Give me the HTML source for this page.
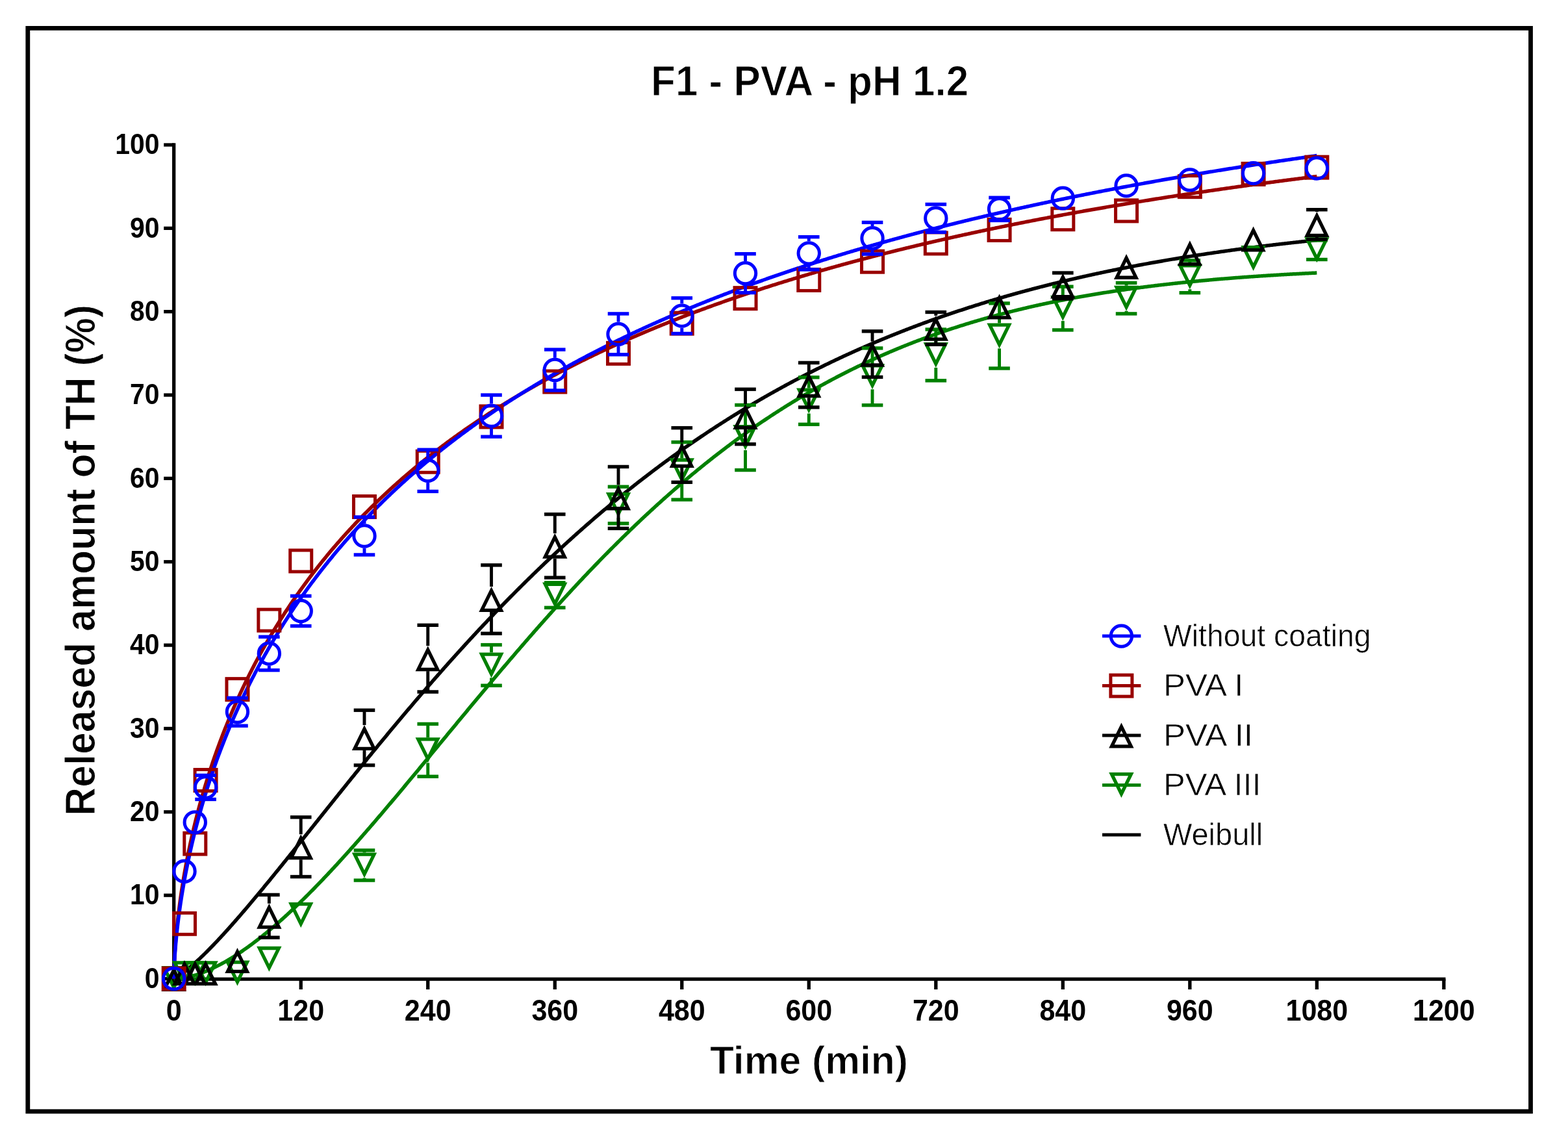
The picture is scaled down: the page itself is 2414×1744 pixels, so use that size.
<!DOCTYPE html>
<html><head><meta charset="utf-8"><title>F1 - PVA - pH 1.2</title>
<style>html,body{margin:0;padding:0;background:#fff;overflow:hidden;}svg{display:block;}</style></head>
<body>
<svg width="2414" height="1744" viewBox="0 0 2414 1744">
<rect x="0" y="0" width="2414" height="1744" fill="#fff"/>
<rect x="42.8" y="43.4" width="2313.7" height="1667.4" fill="none" stroke="#000" stroke-width="6.8"/>
<text transform="translate(1246.6,146.7) scale(0.9685,1)" text-anchor="middle" font-family="'Liberation Sans', sans-serif" font-weight="bold" font-size="64" stroke="#fff" stroke-width="1">F1 - PVA - pH 1.2</text>
<text transform="translate(145.9,862.3) rotate(-90) scale(0.9497,1)" text-anchor="middle" font-family="'Liberation Sans', sans-serif" font-weight="bold" font-size="64" stroke="#fff" stroke-width="1">Released amount of TH (%)</text>
<text transform="translate(1245.5,1653.4) scale(0.993,1)" text-anchor="middle" font-family="'Liberation Sans', sans-serif" font-weight="bold" font-size="61" stroke="#fff" stroke-width="1">Time (min)</text>
<line x1="267.7" y1="220.3" x2="267.7" y2="1509.8500000000001" stroke="#000" stroke-width="5.3"/>
<line x1="265.05" y1="1507.2" x2="2225.51" y2="1507.2" stroke="#000" stroke-width="5.3"/>
<line x1="252.2" y1="1506.50" x2="267.7" y2="1506.50" stroke="#000" stroke-width="5.3"/>
<text transform="translate(245.5,1520.80) scale(0.93,1)" text-anchor="end" font-family="'Liberation Sans', sans-serif" font-weight="bold" font-size="44">0</text>
<line x1="252.2" y1="1378.15" x2="267.7" y2="1378.15" stroke="#000" stroke-width="5.3"/>
<text transform="translate(245.5,1392.45) scale(0.93,1)" text-anchor="end" font-family="'Liberation Sans', sans-serif" font-weight="bold" font-size="44">10</text>
<line x1="252.2" y1="1249.80" x2="267.7" y2="1249.80" stroke="#000" stroke-width="5.3"/>
<text transform="translate(245.5,1264.10) scale(0.93,1)" text-anchor="end" font-family="'Liberation Sans', sans-serif" font-weight="bold" font-size="44">20</text>
<line x1="252.2" y1="1121.45" x2="267.7" y2="1121.45" stroke="#000" stroke-width="5.3"/>
<text transform="translate(245.5,1135.75) scale(0.93,1)" text-anchor="end" font-family="'Liberation Sans', sans-serif" font-weight="bold" font-size="44">30</text>
<line x1="252.2" y1="993.10" x2="267.7" y2="993.10" stroke="#000" stroke-width="5.3"/>
<text transform="translate(245.5,1007.40) scale(0.93,1)" text-anchor="end" font-family="'Liberation Sans', sans-serif" font-weight="bold" font-size="44">40</text>
<line x1="252.2" y1="864.75" x2="267.7" y2="864.75" stroke="#000" stroke-width="5.3"/>
<text transform="translate(245.5,879.05) scale(0.93,1)" text-anchor="end" font-family="'Liberation Sans', sans-serif" font-weight="bold" font-size="44">50</text>
<line x1="252.2" y1="736.40" x2="267.7" y2="736.40" stroke="#000" stroke-width="5.3"/>
<text transform="translate(245.5,750.70) scale(0.93,1)" text-anchor="end" font-family="'Liberation Sans', sans-serif" font-weight="bold" font-size="44">60</text>
<line x1="252.2" y1="608.05" x2="267.7" y2="608.05" stroke="#000" stroke-width="5.3"/>
<text transform="translate(245.5,622.35) scale(0.93,1)" text-anchor="end" font-family="'Liberation Sans', sans-serif" font-weight="bold" font-size="44">70</text>
<line x1="252.2" y1="479.70" x2="267.7" y2="479.70" stroke="#000" stroke-width="5.3"/>
<text transform="translate(245.5,494.00) scale(0.93,1)" text-anchor="end" font-family="'Liberation Sans', sans-serif" font-weight="bold" font-size="44">80</text>
<line x1="252.2" y1="351.35" x2="267.7" y2="351.35" stroke="#000" stroke-width="5.3"/>
<text transform="translate(245.5,365.65) scale(0.93,1)" text-anchor="end" font-family="'Liberation Sans', sans-serif" font-weight="bold" font-size="44">90</text>
<line x1="252.2" y1="223.00" x2="267.7" y2="223.00" stroke="#000" stroke-width="5.3"/>
<text transform="translate(245.5,237.30) scale(0.93,1)" text-anchor="end" font-family="'Liberation Sans', sans-serif" font-weight="bold" font-size="44">100</text>
<line x1="267.70" y1="1507.2" x2="267.70" y2="1523" stroke="#000" stroke-width="5.3"/>
<text transform="translate(267.70,1571.2) scale(0.935,1)" text-anchor="middle" font-family="'Liberation Sans', sans-serif" font-weight="bold" font-size="46">0</text>
<line x1="463.22" y1="1507.2" x2="463.22" y2="1523" stroke="#000" stroke-width="5.3"/>
<text transform="translate(463.22,1571.2) scale(0.935,1)" text-anchor="middle" font-family="'Liberation Sans', sans-serif" font-weight="bold" font-size="46">120</text>
<line x1="658.73" y1="1507.2" x2="658.73" y2="1523" stroke="#000" stroke-width="5.3"/>
<text transform="translate(658.73,1571.2) scale(0.935,1)" text-anchor="middle" font-family="'Liberation Sans', sans-serif" font-weight="bold" font-size="46">240</text>
<line x1="854.25" y1="1507.2" x2="854.25" y2="1523" stroke="#000" stroke-width="5.3"/>
<text transform="translate(854.25,1571.2) scale(0.935,1)" text-anchor="middle" font-family="'Liberation Sans', sans-serif" font-weight="bold" font-size="46">360</text>
<line x1="1049.76" y1="1507.2" x2="1049.76" y2="1523" stroke="#000" stroke-width="5.3"/>
<text transform="translate(1049.76,1571.2) scale(0.935,1)" text-anchor="middle" font-family="'Liberation Sans', sans-serif" font-weight="bold" font-size="46">480</text>
<line x1="1245.28" y1="1507.2" x2="1245.28" y2="1523" stroke="#000" stroke-width="5.3"/>
<text transform="translate(1245.28,1571.2) scale(0.935,1)" text-anchor="middle" font-family="'Liberation Sans', sans-serif" font-weight="bold" font-size="46">600</text>
<line x1="1440.80" y1="1507.2" x2="1440.80" y2="1523" stroke="#000" stroke-width="5.3"/>
<text transform="translate(1440.80,1571.2) scale(0.935,1)" text-anchor="middle" font-family="'Liberation Sans', sans-serif" font-weight="bold" font-size="46">720</text>
<line x1="1636.31" y1="1507.2" x2="1636.31" y2="1523" stroke="#000" stroke-width="5.3"/>
<text transform="translate(1636.31,1571.2) scale(0.935,1)" text-anchor="middle" font-family="'Liberation Sans', sans-serif" font-weight="bold" font-size="46">840</text>
<line x1="1831.83" y1="1507.2" x2="1831.83" y2="1523" stroke="#000" stroke-width="5.3"/>
<text transform="translate(1831.83,1571.2) scale(0.935,1)" text-anchor="middle" font-family="'Liberation Sans', sans-serif" font-weight="bold" font-size="46">960</text>
<line x1="2027.34" y1="1507.2" x2="2027.34" y2="1523" stroke="#000" stroke-width="5.3"/>
<text transform="translate(2027.34,1571.2) scale(0.935,1)" text-anchor="middle" font-family="'Liberation Sans', sans-serif" font-weight="bold" font-size="46">1080</text>
<line x1="2222.86" y1="1507.2" x2="2222.86" y2="1523" stroke="#000" stroke-width="5.3"/>
<text transform="translate(2222.86,1571.2) scale(0.935,1)" text-anchor="middle" font-family="'Liberation Sans', sans-serif" font-weight="bold" font-size="46">1200</text>
<polyline points="267.70,1506.50 269.17,1506.50 270.64,1506.50 272.10,1506.48 273.57,1506.41 275.04,1506.30 276.51,1506.17 277.97,1506.01 279.44,1505.83 280.91,1505.62 282.38,1505.39 283.84,1505.14 285.31,1504.87 286.78,1504.59 288.25,1504.28 289.71,1503.95 291.18,1503.61 292.65,1503.25 294.12,1502.88 295.58,1502.48 297.05,1502.08 298.52,1501.65 299.99,1501.21 301.45,1500.76 302.92,1500.29 304.39,1499.81 305.86,1499.31 307.33,1498.80 308.79,1498.27 310.26,1497.73 311.73,1497.18 313.20,1496.61 314.66,1496.03 316.13,1495.44 317.60,1494.84 319.07,1494.22 320.53,1493.59 322.00,1492.95 323.47,1492.29 324.94,1491.62 326.40,1490.95 327.87,1490.26 329.34,1489.55 330.81,1488.84 332.27,1488.12 333.74,1487.38 335.21,1486.63 336.68,1485.87 338.14,1485.10 339.61,1484.32 341.08,1483.53 342.55,1482.73 344.01,1481.92 345.48,1481.10 346.95,1480.27 348.42,1479.42 349.89,1478.57 351.35,1477.71 352.82,1476.83 354.29,1475.95 355.76,1475.06 357.22,1474.16 358.69,1473.24 360.16,1472.32 361.63,1471.39 363.09,1470.45 364.56,1469.50 366.03,1468.54 367.50,1467.57 368.96,1466.60 370.43,1465.61 371.90,1464.61 373.37,1463.61 374.83,1462.60 376.30,1461.58 377.77,1460.55 379.24,1459.51 380.70,1458.46 382.17,1457.41 383.64,1456.34 385.11,1455.27 386.58,1454.19 388.04,1453.10 389.51,1452.01 390.98,1450.90 392.45,1449.79 393.91,1448.67 395.38,1447.54 396.85,1446.40 398.32,1445.26 399.78,1444.11 401.25,1442.95 402.72,1441.79 404.19,1440.61 405.65,1439.43 407.12,1438.24 408.59,1437.05 410.06,1435.84 411.52,1434.63 412.99,1433.42 414.46,1432.19 415.93,1430.96 417.39,1429.72 418.86,1428.48 420.33,1427.23 421.80,1425.97 423.26,1424.70 424.73,1423.43 426.20,1422.15 427.67,1420.87 429.14,1419.58 430.60,1418.28 432.07,1416.97 433.54,1415.66 435.01,1414.35 436.47,1413.02 437.94,1411.70 439.41,1410.36 440.88,1409.02 442.34,1407.67 443.81,1406.32 445.28,1404.96 446.75,1403.59 448.21,1402.22 449.68,1400.85 451.15,1399.46 452.62,1398.08 454.08,1396.68 455.55,1395.28 457.02,1393.88 458.49,1392.47 459.95,1391.05 461.42,1389.63 462.89,1388.21 464.36,1386.78 465.83,1385.34 467.29,1383.90 468.76,1382.45 470.23,1381.00 471.70,1379.54 473.16,1378.08 474.63,1376.61 476.10,1375.14 477.57,1373.66 479.03,1372.18 480.50,1370.70 481.97,1369.21 483.44,1367.71 484.90,1366.21 486.37,1364.70 487.84,1363.20 489.31,1361.68 490.77,1360.16 492.24,1358.64 493.71,1357.11 495.18,1355.58 496.64,1354.05 498.11,1352.51 499.58,1350.96 501.05,1349.41 502.51,1347.86 503.98,1346.31 505.45,1344.75 506.92,1343.18 508.39,1341.61 509.85,1340.04 511.32,1338.46 512.79,1336.88 514.26,1335.30 515.72,1333.71 517.19,1332.12 518.66,1330.53 520.13,1328.93 521.59,1327.33 523.06,1325.72 524.53,1324.11 526.00,1322.50 527.46,1320.89 528.93,1319.27 530.40,1317.65 531.87,1316.02 533.33,1314.39 534.80,1312.76 536.27,1311.12 537.74,1309.49 539.20,1307.84 540.67,1306.20 542.14,1304.55 543.61,1302.90 545.08,1301.25 546.54,1299.59 548.01,1297.93 549.48,1296.27 550.95,1294.61 552.41,1292.94 553.88,1291.27 555.35,1289.60 556.82,1287.92 558.28,1286.24 559.75,1284.56 561.22,1282.88 562.69,1281.19 564.15,1279.51 565.62,1277.82 567.09,1276.12 568.56,1274.43 570.02,1272.73 571.49,1271.03 572.96,1269.33 574.43,1267.63 575.89,1265.92 577.36,1264.21 578.83,1262.50 580.30,1260.79 581.76,1259.07 583.23,1257.36 584.70,1255.64 586.17,1253.92 587.64,1252.20 589.10,1250.47 590.57,1248.75 592.04,1247.02 593.51,1245.29 594.97,1243.56 596.44,1241.82 597.91,1240.09 599.38,1238.35 600.84,1236.62 602.31,1234.88 603.78,1233.14 605.25,1231.39 606.71,1229.65 608.18,1227.90 609.65,1226.16 611.12,1224.41 612.58,1222.66 614.05,1220.91 615.52,1219.16 616.99,1217.40 618.45,1215.65 619.92,1213.90 621.39,1212.14 622.86,1210.38 624.33,1208.62 625.79,1206.86 627.26,1205.10 628.73,1203.34 630.20,1201.58 631.66,1199.81 633.13,1198.05 634.60,1196.28 636.07,1194.52 637.53,1192.75 639.00,1190.98 640.47,1189.21 641.94,1187.44 643.40,1185.67 644.87,1183.90 646.34,1182.13 647.81,1180.36 649.27,1178.59 650.74,1176.82 652.21,1175.04 653.68,1173.27 655.14,1171.49 656.61,1169.72 658.08,1167.94 659.55,1166.17 661.01,1164.39 662.48,1162.62 663.95,1160.84 665.42,1159.06 666.89,1157.29 668.35,1155.51 669.82,1153.73 671.29,1151.95 672.76,1150.18 674.22,1148.40 675.69,1146.62 677.16,1144.84 678.63,1143.06 680.09,1141.29 681.56,1139.51 683.03,1137.73 684.50,1135.95 685.96,1134.17 687.43,1132.40 688.90,1130.62 690.37,1128.84 691.83,1127.06 693.30,1125.29 694.77,1123.51 696.24,1121.73 697.70,1119.96 699.17,1118.18 700.64,1116.41 702.11,1114.63 703.58,1112.86 705.04,1111.08 706.51,1109.31 707.98,1107.54 709.45,1105.76 710.91,1103.99 712.38,1102.22 713.85,1100.45 715.32,1098.68 716.78,1096.91 718.25,1095.14 719.72,1093.37 721.19,1091.60 722.65,1089.84 724.12,1088.07 725.59,1086.30 727.06,1084.54 728.52,1082.77 729.99,1081.01 731.46,1079.25 732.93,1077.49 734.39,1075.73 735.86,1073.97 737.33,1072.21 738.80,1070.45 740.26,1068.69 741.73,1066.94 743.20,1065.18 744.67,1063.43 746.14,1061.67 747.60,1059.92 749.07,1058.17 750.54,1056.42 752.01,1054.67 753.47,1052.93 754.94,1051.18 756.41,1049.43 757.88,1047.69 759.34,1045.95 760.81,1044.21 762.28,1042.47 763.75,1040.73 765.21,1038.99 766.68,1037.25 768.15,1035.52 769.62,1033.78 771.08,1032.05 772.55,1030.32 774.02,1028.59 775.49,1026.86 776.95,1025.14 778.42,1023.41 779.89,1021.69 781.36,1019.97 782.83,1018.25 784.29,1016.53 785.76,1014.81 787.23,1013.09 788.70,1011.38 790.16,1009.67 791.63,1007.96 793.10,1006.25 794.57,1004.54 796.03,1002.83 797.50,1001.13 798.97,999.43 800.44,997.72 801.90,996.03 803.37,994.33 804.84,992.63 806.31,990.94 807.77,989.25 809.24,987.56 810.71,985.87 812.18,984.18 813.64,982.50 815.11,980.81 816.58,979.13 818.05,977.45 819.51,975.78 820.98,974.10 822.45,972.43 823.92,970.76 825.39,969.09 826.85,967.42 828.32,965.76 829.79,964.09 831.26,962.43 832.72,960.77 834.19,959.11 835.66,957.46 837.13,955.81 838.59,954.16 840.06,952.51 841.53,950.86 843.00,949.22 844.46,947.57 845.93,945.93 847.40,944.30 848.87,942.66 850.33,941.03 851.80,939.40 853.27,937.77 854.74,936.14 856.20,934.52 857.67,932.90 859.14,931.28 860.61,929.66 862.08,928.04 863.54,926.43 865.01,924.82 866.48,923.21 867.95,921.61 869.41,920.00 870.88,918.40 872.35,916.80 873.82,915.21 875.28,913.61 876.75,912.02 878.22,910.43 879.69,908.85 881.15,907.26 882.62,905.68 884.09,904.10 885.56,902.52 887.02,900.95 888.49,899.38 889.96,897.81 891.43,896.24 892.89,894.68 894.36,893.12 895.83,891.56 897.30,890.00 898.76,888.45 900.23,886.90 901.70,885.35 903.17,883.80 904.64,882.26 906.10,880.72 907.57,879.18 909.04,877.64 910.51,876.11 911.97,874.58 913.44,873.05 914.91,871.53 916.38,870.01 917.84,868.49 919.31,866.97 920.78,865.46 922.25,863.95 923.71,862.44 925.18,860.93 926.65,859.43 928.12,857.93 929.58,856.43 931.05,854.94 932.52,853.44 933.99,851.95 935.45,850.47 936.92,848.98 938.39,847.50 939.86,846.03 941.33,844.55 942.79,843.08 944.26,841.61 945.73,840.14 947.20,838.68 948.66,837.22 950.13,835.76 951.60,834.30 953.07,832.85 954.53,831.40 956.00,829.95 957.47,828.51 958.94,827.07 960.40,825.63 961.87,824.20 963.34,822.76 964.81,821.33 966.27,819.91 967.74,818.48 969.21,817.06 970.68,815.64 972.14,814.23 973.61,812.82 975.08,811.41 976.55,810.00 978.02,808.60 979.48,807.20 980.95,805.80 982.42,804.41 983.89,803.02 985.35,801.63 986.82,800.25 988.29,798.86 989.76,797.48 991.22,796.11 992.69,794.73 994.16,793.36 995.63,792.00 997.09,790.63 998.56,789.27 1000.03,787.91 1001.50,786.56 1002.96,785.21 1004.43,783.86 1005.90,782.51 1007.37,781.17 1008.83,779.83 1010.30,778.49 1011.77,777.16 1013.24,775.83 1014.70,774.50 1016.17,773.18 1017.64,771.85 1019.11,770.54 1020.58,769.22 1022.04,767.91 1023.51,766.60 1024.98,765.29 1026.45,763.99 1027.91,762.69 1029.38,761.39 1030.85,760.10 1032.32,758.81 1033.78,757.52 1035.25,756.23 1036.72,754.95 1038.19,753.67 1039.65,752.40 1041.12,751.13 1042.59,749.86 1044.06,748.59 1045.52,747.33 1046.99,746.07 1048.46,744.81 1049.93,743.56 1051.39,742.31 1052.86,741.06 1054.33,739.81 1055.80,738.57 1057.27,737.34 1058.73,736.10 1060.20,734.87 1061.67,733.64 1063.14,732.41 1064.60,731.19 1066.07,729.97 1067.54,728.75 1069.01,727.54 1070.47,726.33 1071.94,725.12 1073.41,723.92 1074.88,722.72 1076.34,721.52 1077.81,720.33 1079.28,719.14 1080.75,717.95 1082.21,716.76 1083.68,715.58 1085.15,714.40 1086.62,713.22 1088.08,712.05 1089.55,710.88 1091.02,709.72 1092.49,708.55 1093.95,707.39 1095.42,706.23 1096.89,705.08 1098.36,703.93 1099.83,702.78 1101.29,701.64 1102.76,700.50 1104.23,699.36 1105.70,698.22 1107.16,697.09 1108.63,695.96 1110.10,694.83 1111.57,693.71 1113.03,692.59 1114.50,691.47 1115.97,690.36 1117.44,689.25 1118.90,688.14 1120.37,687.04 1121.84,685.94 1123.31,684.84 1124.77,683.74 1126.24,682.65 1127.71,681.56 1129.18,680.48 1130.64,679.39 1132.11,678.31 1133.58,677.24 1135.05,676.16 1136.52,675.09 1137.98,674.03 1139.45,672.96 1140.92,671.90 1142.39,670.84 1143.85,669.79 1145.32,668.74 1146.79,667.69 1148.26,666.64 1149.72,665.60 1151.19,664.56 1152.66,663.52 1154.13,662.49 1155.59,661.46 1157.06,660.43 1158.53,659.41 1160.00,658.38 1161.46,657.37 1162.93,656.35 1164.40,655.34 1165.87,654.33 1167.33,653.32 1168.80,652.32 1170.27,651.32 1171.74,650.32 1173.20,649.33 1174.67,648.34 1176.14,647.35 1177.61,646.36 1179.08,645.38 1180.54,644.40 1182.01,643.43 1183.48,642.45 1184.95,641.48 1186.41,640.52 1187.88,639.55 1189.35,638.59 1190.82,637.63 1192.28,636.68 1193.75,635.73 1195.22,634.78 1196.69,633.83 1198.15,632.89 1199.62,631.95 1201.09,631.01 1202.56,630.08 1204.02,629.14 1205.49,628.22 1206.96,627.29 1208.43,626.37 1209.89,625.45 1211.36,624.53 1212.83,623.62 1214.30,622.71 1215.77,621.80 1217.23,620.89 1218.70,619.99 1220.17,619.09 1221.64,618.20 1223.10,617.30 1224.57,616.41 1226.04,615.53 1227.51,614.64 1228.97,613.76 1230.44,612.88 1231.91,612.00 1233.38,611.13 1234.84,610.26 1236.31,609.39 1237.78,608.53 1239.25,607.67 1240.71,606.81 1242.18,605.95 1243.65,605.10 1245.12,604.25 1246.58,603.40 1248.05,602.56 1249.52,601.72 1250.99,600.88 1252.45,600.04 1253.92,599.21 1255.39,598.38 1256.86,597.55 1258.33,596.72 1259.79,595.90 1261.26,595.08 1262.73,594.27 1264.20,593.45 1265.66,592.64 1267.13,591.83 1268.60,591.03 1270.07,590.23 1271.53,589.43 1273.00,588.63 1274.47,587.83 1275.94,587.04 1277.40,586.25 1278.87,585.47 1280.34,584.68 1281.81,583.90 1283.27,583.12 1284.74,582.35 1286.21,581.58 1287.68,580.81 1289.14,580.04 1290.61,579.28 1292.08,578.51 1293.55,577.75 1295.02,577.00 1296.48,576.24 1297.95,575.49 1299.42,574.74 1300.89,574.00 1302.35,573.26 1303.82,572.51 1305.29,571.78 1306.76,571.04 1308.22,570.31 1309.69,569.58 1311.16,568.85 1312.63,568.13 1314.09,567.40 1315.56,566.69 1317.03,565.97 1318.50,565.25 1319.96,564.54 1321.43,563.83 1322.90,563.13 1324.37,562.42 1325.83,561.72 1327.30,561.02 1328.77,560.33 1330.24,559.63 1331.70,558.94 1333.17,558.25 1334.64,557.57 1336.11,556.88 1337.58,556.20 1339.04,555.52 1340.51,554.85 1341.98,554.17 1343.45,553.50 1344.91,552.83 1346.38,552.17 1347.85,551.50 1349.32,550.84 1350.78,550.18 1352.25,549.53 1353.72,548.87 1355.19,548.22 1356.65,547.57 1358.12,546.93 1359.59,546.28 1361.06,545.64 1362.52,545.00 1363.99,544.37 1365.46,543.73 1366.93,543.10 1368.39,542.47 1369.86,541.84 1371.33,541.22 1372.80,540.60 1374.27,539.98 1375.73,539.36 1377.20,538.74 1378.67,538.13 1380.14,537.52 1381.60,536.91 1383.07,536.31 1384.54,535.70 1386.01,535.10 1387.47,534.50 1388.94,533.91 1390.41,533.31 1391.88,532.72 1393.34,532.13 1394.81,531.55 1396.28,530.96 1397.75,530.38 1399.21,529.80 1400.68,529.22 1402.15,528.64 1403.62,528.07 1405.08,527.50 1406.55,526.93 1408.02,526.36 1409.49,525.80 1410.95,525.24 1412.42,524.68 1413.89,524.12 1415.36,523.56 1416.83,523.01 1418.29,522.46 1419.76,521.91 1421.23,521.36 1422.70,520.82 1424.16,520.28 1425.63,519.74 1427.10,519.20 1428.57,518.66 1430.03,518.13 1431.50,517.60 1432.97,517.07 1434.44,516.54 1435.90,516.02 1437.37,515.49 1438.84,514.97 1440.31,514.45 1441.77,513.94 1443.24,513.42 1444.71,512.91 1446.18,512.40 1447.64,511.89 1449.11,511.39 1450.58,510.88 1452.05,510.38 1453.52,509.88 1454.98,509.38 1456.45,508.89 1457.92,508.39 1459.39,507.90 1460.85,507.41 1462.32,506.92 1463.79,506.44 1465.26,505.95 1466.72,505.47 1468.19,504.99 1469.66,504.51 1471.13,504.04 1472.59,503.57 1474.06,503.09 1475.53,502.62 1477.00,502.16 1478.46,501.69 1479.93,501.23 1481.40,500.76 1482.87,500.31 1484.33,499.85 1485.80,499.39 1487.27,498.94 1488.74,498.48 1490.20,498.03 1491.67,497.59 1493.14,497.14 1494.61,496.70 1496.08,496.25 1497.54,495.81 1499.01,495.37 1500.48,494.94 1501.95,494.50 1503.41,494.07 1504.88,493.64 1506.35,493.21 1507.82,492.78 1509.28,492.35 1510.75,491.93 1512.22,491.51 1513.69,491.09 1515.15,490.67 1516.62,490.25 1518.09,489.84 1519.56,489.42 1521.02,489.01 1522.49,488.60 1523.96,488.19 1525.43,487.79 1526.89,487.38 1528.36,486.98 1529.83,486.58 1531.30,486.18 1532.77,485.79 1534.23,485.39 1535.70,485.00 1537.17,484.60 1538.64,484.21 1540.10,483.83 1541.57,483.44 1543.04,483.05 1544.51,482.67 1545.97,482.29 1547.44,481.91 1548.91,481.53 1550.38,481.15 1551.84,480.78 1553.31,480.41 1554.78,480.03 1556.25,479.66 1557.71,479.30 1559.18,478.93 1560.65,478.56 1562.12,478.20 1563.58,477.84 1565.05,477.48 1566.52,477.12 1567.99,476.76 1569.45,476.41 1570.92,476.05 1572.39,475.70 1573.86,475.35 1575.33,475.00 1576.79,474.66 1578.26,474.31 1579.73,473.97 1581.20,473.62 1582.66,473.28 1584.13,472.94 1585.60,472.61 1587.07,472.27 1588.53,471.93 1590.00,471.60 1591.47,471.27 1592.94,470.94 1594.40,470.61 1595.87,470.28 1597.34,469.96 1598.81,469.63 1600.27,469.31 1601.74,468.99 1603.21,468.67 1604.68,468.35 1606.14,468.03 1607.61,467.72 1609.08,467.40 1610.55,467.09 1612.02,466.78 1613.48,466.47 1614.95,466.16 1616.42,465.86 1617.89,465.55 1619.35,465.25 1620.82,464.95 1622.29,464.64 1623.76,464.34 1625.22,464.05 1626.69,463.75 1628.16,463.45 1629.63,463.16 1631.09,462.87 1632.56,462.58 1634.03,462.29 1635.50,462.00 1636.96,461.71 1638.43,461.43 1639.90,461.14 1641.37,460.86 1642.83,460.58 1644.30,460.30 1645.77,460.02 1647.24,459.74 1648.71,459.46 1650.17,459.19 1651.64,458.91 1653.11,458.64 1654.58,458.37 1656.04,458.10 1657.51,457.83 1658.98,457.57 1660.45,457.30 1661.91,457.03 1663.38,456.77 1664.85,456.51 1666.32,456.25 1667.78,455.99 1669.25,455.73 1670.72,455.47 1672.19,455.22 1673.65,454.96 1675.12,454.71 1676.59,454.46 1678.06,454.21 1679.52,453.96 1680.99,453.71 1682.46,453.46 1683.93,453.21 1685.39,452.97 1686.86,452.73 1688.33,452.48 1689.80,452.24 1691.27,452.00 1692.73,451.76 1694.20,451.53 1695.67,451.29 1697.14,451.05 1698.60,450.82 1700.07,450.59 1701.54,450.35 1703.01,450.12 1704.47,449.89 1705.94,449.66 1707.41,449.44 1708.88,449.21 1710.34,448.99 1711.81,448.76 1713.28,448.54 1714.75,448.32 1716.21,448.10 1717.68,447.88 1719.15,447.66 1720.62,447.44 1722.08,447.22 1723.55,447.01 1725.02,446.80 1726.49,446.58 1727.96,446.37 1729.42,446.16 1730.89,445.95 1732.36,445.74 1733.83,445.53 1735.29,445.33 1736.76,445.12 1738.23,444.92 1739.70,444.71 1741.16,444.51 1742.63,444.31 1744.10,444.11 1745.57,443.91 1747.03,443.71 1748.50,443.51 1749.97,443.31 1751.44,443.12 1752.90,442.92 1754.37,442.73 1755.84,442.54 1757.31,442.35 1758.77,442.16 1760.24,441.97 1761.71,441.78 1763.18,441.59 1764.64,441.40 1766.11,441.22 1767.58,441.03 1769.05,440.85 1770.52,440.67 1771.98,440.48 1773.45,440.30 1774.92,440.12 1776.39,439.94 1777.85,439.77 1779.32,439.59 1780.79,439.41 1782.26,439.24 1783.72,439.06 1785.19,438.89 1786.66,438.71 1788.13,438.54 1789.59,438.37 1791.06,438.20 1792.53,438.03 1794.00,437.86 1795.46,437.70 1796.93,437.53 1798.40,437.36 1799.87,437.20 1801.33,437.04 1802.80,436.87 1804.27,436.71 1805.74,436.55 1807.21,436.39 1808.67,436.23 1810.14,436.07 1811.61,435.91 1813.08,435.75 1814.54,435.60 1816.01,435.44 1817.48,435.29 1818.95,435.13 1820.41,434.98 1821.88,434.83 1823.35,434.68 1824.82,434.53 1826.28,434.38 1827.75,434.23 1829.22,434.08 1830.69,433.93 1832.15,433.79 1833.62,433.64 1835.09,433.49 1836.56,433.35 1838.02,433.21 1839.49,433.06 1840.96,432.92 1842.43,432.78 1843.89,432.64 1845.36,432.50 1846.83,432.36 1848.30,432.22 1849.77,432.08 1851.23,431.95 1852.70,431.81 1854.17,431.68 1855.64,431.54 1857.10,431.41 1858.57,431.27 1860.04,431.14 1861.51,431.01 1862.97,430.88 1864.44,430.75 1865.91,430.62 1867.38,430.49 1868.84,430.36 1870.31,430.24 1871.78,430.11 1873.25,429.98 1874.71,429.86 1876.18,429.73 1877.65,429.61 1879.12,429.48 1880.58,429.36 1882.05,429.24 1883.52,429.12 1884.99,429.00 1886.46,428.88 1887.92,428.76 1889.39,428.64 1890.86,428.52 1892.33,428.40 1893.79,428.29 1895.26,428.17 1896.73,428.06 1898.20,427.94 1899.66,427.83 1901.13,427.71 1902.60,427.60 1904.07,427.49 1905.53,427.38 1907.00,427.27 1908.47,427.16 1909.94,427.05 1911.40,426.94 1912.87,426.83 1914.34,426.72 1915.81,426.61 1917.27,426.51 1918.74,426.40 1920.21,426.29 1921.68,426.19 1923.14,426.08 1924.61,425.98 1926.08,425.88 1927.55,425.77 1929.02,425.67 1930.48,425.57 1931.95,425.47 1933.42,425.37 1934.89,425.27 1936.35,425.17 1937.82,425.07 1939.29,424.97 1940.76,424.88 1942.22,424.78 1943.69,424.68 1945.16,424.59 1946.63,424.49 1948.09,424.40 1949.56,424.30 1951.03,424.21 1952.50,424.11 1953.96,424.02 1955.43,423.93 1956.90,423.84 1958.37,423.75 1959.83,423.66 1961.30,423.57 1962.77,423.48 1964.24,423.39 1965.71,423.30 1967.17,423.21 1968.64,423.12 1970.11,423.04 1971.58,422.95 1973.04,422.86 1974.51,422.78 1975.98,422.69 1977.45,422.61 1978.91,422.52 1980.38,422.44 1981.85,422.36 1983.32,422.27 1984.78,422.19 1986.25,422.11 1987.72,422.03 1989.19,421.95 1990.65,421.87 1992.12,421.79 1993.59,421.71 1995.06,421.63 1996.52,421.55 1997.99,421.47 1999.46,421.40 2000.93,421.32 2002.39,421.24 2003.86,421.17 2005.33,421.09 2006.80,421.01 2008.27,420.94 2009.73,420.87 2011.20,420.79 2012.67,420.72 2014.14,420.64 2015.60,420.57 2017.07,420.50 2018.54,420.43 2020.01,420.36 2021.47,420.29 2022.94,420.21 2024.41,420.14 2025.88,420.07 2027.34,420.01" fill="none" stroke="#008000" stroke-width="5.5" stroke-linejoin="round"/>
<polyline points="267.70,1505.77 269.17,1505.12 270.64,1504.38 272.10,1503.59 273.57,1502.74 275.04,1501.84 276.51,1500.91 277.97,1499.93 279.44,1498.93 280.91,1497.89 282.38,1496.83 283.84,1495.74 285.31,1494.63 286.78,1493.49 288.25,1492.33 289.71,1491.15 291.18,1489.95 292.65,1488.72 294.12,1487.49 295.58,1486.23 297.05,1484.96 298.52,1483.67 299.99,1482.37 301.45,1481.05 302.92,1479.72 304.39,1478.37 305.86,1477.01 307.33,1475.64 308.79,1474.25 310.26,1472.85 311.73,1471.44 313.20,1470.02 314.66,1468.59 316.13,1467.15 317.60,1465.70 319.07,1464.23 320.53,1462.76 322.00,1461.28 323.47,1459.78 324.94,1458.28 326.40,1456.77 327.87,1455.25 329.34,1453.73 330.81,1452.19 332.27,1450.65 333.74,1449.10 335.21,1447.54 336.68,1445.97 338.14,1444.40 339.61,1442.82 341.08,1441.23 342.55,1439.63 344.01,1438.03 345.48,1436.42 346.95,1434.81 348.42,1433.19 349.89,1431.56 351.35,1429.93 352.82,1428.29 354.29,1426.65 355.76,1425.00 357.22,1423.35 358.69,1421.69 360.16,1420.02 361.63,1418.35 363.09,1416.68 364.56,1415.00 366.03,1413.31 367.50,1411.62 368.96,1409.93 370.43,1408.23 371.90,1406.53 373.37,1404.82 374.83,1403.11 376.30,1401.40 377.77,1399.68 379.24,1397.96 380.70,1396.23 382.17,1394.50 383.64,1392.77 385.11,1391.03 386.58,1389.29 388.04,1387.55 389.51,1385.80 390.98,1384.05 392.45,1382.30 393.91,1380.54 395.38,1378.78 396.85,1377.02 398.32,1375.25 399.78,1373.49 401.25,1371.72 402.72,1369.94 404.19,1368.17 405.65,1366.39 407.12,1364.61 408.59,1362.83 410.06,1361.04 411.52,1359.25 412.99,1357.47 414.46,1355.67 415.93,1353.88 417.39,1352.08 418.86,1350.29 420.33,1348.49 421.80,1346.69 423.26,1344.88 424.73,1343.08 426.20,1341.27 427.67,1339.46 429.14,1337.66 430.60,1335.84 432.07,1334.03 433.54,1332.22 435.01,1330.40 436.47,1328.59 437.94,1326.77 439.41,1324.95 440.88,1323.13 442.34,1321.31 443.81,1319.48 445.28,1317.66 446.75,1315.84 448.21,1314.01 449.68,1312.18 451.15,1310.36 452.62,1308.53 454.08,1306.70 455.55,1304.87 457.02,1303.04 458.49,1301.21 459.95,1299.38 461.42,1297.54 462.89,1295.71 464.36,1293.88 465.83,1292.04 467.29,1290.21 468.76,1288.37 470.23,1286.54 471.70,1284.70 473.16,1282.87 474.63,1281.03 476.10,1279.19 477.57,1277.36 479.03,1275.52 480.50,1273.68 481.97,1271.85 483.44,1270.01 484.90,1268.17 486.37,1266.33 487.84,1264.50 489.31,1262.66 490.77,1260.82 492.24,1258.99 493.71,1257.15 495.18,1255.31 496.64,1253.48 498.11,1251.64 499.58,1249.80 501.05,1247.97 502.51,1246.13 503.98,1244.30 505.45,1242.46 506.92,1240.63 508.39,1238.79 509.85,1236.96 511.32,1235.13 512.79,1233.30 514.26,1231.46 515.72,1229.63 517.19,1227.80 518.66,1225.97 520.13,1224.14 521.59,1222.31 523.06,1220.48 524.53,1218.66 526.00,1216.83 527.46,1215.00 528.93,1213.18 530.40,1211.35 531.87,1209.53 533.33,1207.70 534.80,1205.88 536.27,1204.06 537.74,1202.24 539.20,1200.42 540.67,1198.60 542.14,1196.78 543.61,1194.97 545.08,1193.15 546.54,1191.34 548.01,1189.52 549.48,1187.71 550.95,1185.90 552.41,1184.09 553.88,1182.28 555.35,1180.47 556.82,1178.66 558.28,1176.86 559.75,1175.05 561.22,1173.25 562.69,1171.45 564.15,1169.65 565.62,1167.85 567.09,1166.05 568.56,1164.25 570.02,1162.45 571.49,1160.66 572.96,1158.87 574.43,1157.07 575.89,1155.28 577.36,1153.49 578.83,1151.71 580.30,1149.92 581.76,1148.13 583.23,1146.35 584.70,1144.57 586.17,1142.79 587.64,1141.01 589.10,1139.23 590.57,1137.46 592.04,1135.68 593.51,1133.91 594.97,1132.14 596.44,1130.37 597.91,1128.60 599.38,1126.83 600.84,1125.07 602.31,1123.30 603.78,1121.54 605.25,1119.78 606.71,1118.02 608.18,1116.27 609.65,1114.51 611.12,1112.76 612.58,1111.01 614.05,1109.26 615.52,1107.51 616.99,1105.76 618.45,1104.02 619.92,1102.28 621.39,1100.53 622.86,1098.80 624.33,1097.06 625.79,1095.32 627.26,1093.59 628.73,1091.86 630.20,1090.13 631.66,1088.40 633.13,1086.67 634.60,1084.95 636.07,1083.23 637.53,1081.51 639.00,1079.79 640.47,1078.07 641.94,1076.36 643.40,1074.65 644.87,1072.93 646.34,1071.23 647.81,1069.52 649.27,1067.81 650.74,1066.11 652.21,1064.41 653.68,1062.71 655.14,1061.02 656.61,1059.32 658.08,1057.63 659.55,1055.94 661.01,1054.25 662.48,1052.57 663.95,1050.88 665.42,1049.20 666.89,1047.52 668.35,1045.84 669.82,1044.17 671.29,1042.49 672.76,1040.82 674.22,1039.15 675.69,1037.48 677.16,1035.82 678.63,1034.16 680.09,1032.50 681.56,1030.84 683.03,1029.18 684.50,1027.53 685.96,1025.88 687.43,1024.23 688.90,1022.58 690.37,1020.93 691.83,1019.29 693.30,1017.65 694.77,1016.01 696.24,1014.38 697.70,1012.74 699.17,1011.11 700.64,1009.48 702.11,1007.85 703.58,1006.23 705.04,1004.61 706.51,1002.99 707.98,1001.37 709.45,999.75 710.91,998.14 712.38,996.53 713.85,994.92 715.32,993.31 716.78,991.71 718.25,990.11 719.72,988.51 721.19,986.91 722.65,985.32 724.12,983.72 725.59,982.13 727.06,980.55 728.52,978.96 729.99,977.38 731.46,975.80 732.93,974.22 734.39,972.65 735.86,971.07 737.33,969.50 738.80,967.93 740.26,966.37 741.73,964.80 743.20,963.24 744.67,961.68 746.14,960.13 747.60,958.57 749.07,957.02 750.54,955.47 752.01,953.93 753.47,952.38 754.94,950.84 756.41,949.30 757.88,947.76 759.34,946.23 760.81,944.70 762.28,943.17 763.75,941.64 765.21,940.12 766.68,938.60 768.15,937.08 769.62,935.56 771.08,934.05 772.55,932.53 774.02,931.02 775.49,929.52 776.95,928.01 778.42,926.51 779.89,925.01 781.36,923.51 782.83,922.02 784.29,920.53 785.76,919.04 787.23,917.55 788.70,916.07 790.16,914.58 791.63,913.11 793.10,911.63 794.57,910.15 796.03,908.68 797.50,907.21 798.97,905.75 800.44,904.28 801.90,902.82 803.37,901.36 804.84,899.90 806.31,898.45 807.77,897.00 809.24,895.55 810.71,894.10 812.18,892.66 813.64,891.22 815.11,889.78 816.58,888.34 818.05,886.91 819.51,885.48 820.98,884.05 822.45,882.62 823.92,881.20 825.39,879.78 826.85,878.36 828.32,876.94 829.79,875.53 831.26,874.12 832.72,872.71 834.19,871.31 835.66,869.90 837.13,868.50 838.59,867.11 840.06,865.71 841.53,864.32 843.00,862.93 844.46,861.54 845.93,860.16 847.40,858.77 848.87,857.39 850.33,856.02 851.80,854.64 853.27,853.27 854.74,851.90 856.20,850.53 857.67,849.17 859.14,847.81 860.61,846.45 862.08,845.09 863.54,843.74 865.01,842.38 866.48,841.04 867.95,839.69 869.41,838.34 870.88,837.00 872.35,835.66 873.82,834.33 875.28,833.00 876.75,831.66 878.22,830.34 879.69,829.01 881.15,827.69 882.62,826.37 884.09,825.05 885.56,823.73 887.02,822.42 888.49,821.11 889.96,819.80 891.43,818.50 892.89,817.19 894.36,815.89 895.83,814.60 897.30,813.30 898.76,812.01 900.23,810.72 901.70,809.43 903.17,808.15 904.64,806.86 906.10,805.58 907.57,804.31 909.04,803.03 910.51,801.76 911.97,800.49 913.44,799.22 914.91,797.96 916.38,796.70 917.84,795.44 919.31,794.18 920.78,792.93 922.25,791.68 923.71,790.43 925.18,789.18 926.65,787.94 928.12,786.70 929.58,785.46 931.05,784.22 932.52,782.99 933.99,781.76 935.45,780.53 936.92,779.30 938.39,778.08 939.86,776.86 941.33,775.64 942.79,774.42 944.26,773.21 945.73,772.00 947.20,770.79 948.66,769.58 950.13,768.38 951.60,767.18 953.07,765.98 954.53,764.79 956.00,763.59 957.47,762.40 958.94,761.21 960.40,760.03 961.87,758.85 963.34,757.67 964.81,756.49 966.27,755.31 967.74,754.14 969.21,752.97 970.68,751.80 972.14,750.63 973.61,749.47 975.08,748.31 976.55,747.15 978.02,746.00 979.48,744.84 980.95,743.69 982.42,742.54 983.89,741.40 985.35,740.26 986.82,739.12 988.29,737.98 989.76,736.84 991.22,735.71 992.69,734.58 994.16,733.45 995.63,732.32 997.09,731.20 998.56,730.08 1000.03,728.96 1001.50,727.84 1002.96,726.73 1004.43,725.62 1005.90,724.51 1007.37,723.40 1008.83,722.30 1010.30,721.20 1011.77,720.10 1013.24,719.00 1014.70,717.91 1016.17,716.82 1017.64,715.73 1019.11,714.64 1020.58,713.56 1022.04,712.48 1023.51,711.40 1024.98,710.32 1026.45,709.24 1027.91,708.17 1029.38,707.10 1030.85,706.04 1032.32,704.97 1033.78,703.91 1035.25,702.85 1036.72,701.79 1038.19,700.73 1039.65,699.68 1041.12,698.63 1042.59,697.58 1044.06,696.54 1045.52,695.49 1046.99,694.45 1048.46,693.41 1049.93,692.38 1051.39,691.34 1052.86,690.31 1054.33,689.28 1055.80,688.26 1057.27,687.23 1058.73,686.21 1060.20,685.19 1061.67,684.17 1063.14,683.16 1064.60,682.14 1066.07,681.13 1067.54,680.12 1069.01,679.12 1070.47,678.12 1071.94,677.11 1073.41,676.12 1074.88,675.12 1076.34,674.13 1077.81,673.13 1079.28,672.14 1080.75,671.16 1082.21,670.17 1083.68,669.19 1085.15,668.21 1086.62,667.23 1088.08,666.26 1089.55,665.28 1091.02,664.31 1092.49,663.34 1093.95,662.38 1095.42,661.41 1096.89,660.45 1098.36,659.49 1099.83,658.53 1101.29,657.58 1102.76,656.63 1104.23,655.68 1105.70,654.73 1107.16,653.78 1108.63,652.84 1110.10,651.90 1111.57,650.96 1113.03,650.02 1114.50,649.08 1115.97,648.15 1117.44,647.22 1118.90,646.29 1120.37,645.37 1121.84,644.44 1123.31,643.52 1124.77,642.60 1126.24,641.69 1127.71,640.77 1129.18,639.86 1130.64,638.95 1132.11,638.04 1133.58,637.14 1135.05,636.23 1136.52,635.33 1137.98,634.43 1139.45,633.53 1140.92,632.64 1142.39,631.75 1143.85,630.86 1145.32,629.97 1146.79,629.08 1148.26,628.20 1149.72,627.32 1151.19,626.44 1152.66,625.56 1154.13,624.68 1155.59,623.81 1157.06,622.94 1158.53,622.07 1160.00,621.20 1161.46,620.34 1162.93,619.48 1164.40,618.61 1165.87,617.76 1167.33,616.90 1168.80,616.05 1170.27,615.19 1171.74,614.34 1173.20,613.50 1174.67,612.65 1176.14,611.81 1177.61,610.97 1179.08,610.13 1180.54,609.29 1182.01,608.45 1183.48,607.62 1184.95,606.79 1186.41,605.96 1187.88,605.14 1189.35,604.31 1190.82,603.49 1192.28,602.67 1193.75,601.85 1195.22,601.03 1196.69,600.22 1198.15,599.41 1199.62,598.60 1201.09,597.79 1202.56,596.98 1204.02,596.18 1205.49,595.37 1206.96,594.57 1208.43,593.78 1209.89,592.98 1211.36,592.19 1212.83,591.39 1214.30,590.60 1215.77,589.82 1217.23,589.03 1218.70,588.25 1220.17,587.46 1221.64,586.68 1223.10,585.91 1224.57,585.13 1226.04,584.36 1227.51,583.58 1228.97,582.81 1230.44,582.05 1231.91,581.28 1233.38,580.52 1234.84,579.75 1236.31,578.99 1237.78,578.24 1239.25,577.48 1240.71,576.73 1242.18,575.97 1243.65,575.22 1245.12,574.47 1246.58,573.73 1248.05,572.98 1249.52,572.24 1250.99,571.50 1252.45,570.76 1253.92,570.02 1255.39,569.29 1256.86,568.56 1258.33,567.82 1259.79,567.09 1261.26,566.37 1262.73,565.64 1264.20,564.92 1265.66,564.20 1267.13,563.48 1268.60,562.76 1270.07,562.04 1271.53,561.33 1273.00,560.62 1274.47,559.91 1275.94,559.20 1277.40,558.49 1278.87,557.79 1280.34,557.08 1281.81,556.38 1283.27,555.68 1284.74,554.99 1286.21,554.29 1287.68,553.60 1289.14,552.90 1290.61,552.21 1292.08,551.53 1293.55,550.84 1295.02,550.15 1296.48,549.47 1297.95,548.79 1299.42,548.11 1300.89,547.43 1302.35,546.76 1303.82,546.09 1305.29,545.41 1306.76,544.74 1308.22,544.07 1309.69,543.41 1311.16,542.74 1312.63,542.08 1314.09,541.42 1315.56,540.76 1317.03,540.10 1318.50,539.45 1319.96,538.79 1321.43,538.14 1322.90,537.49 1324.37,536.84 1325.83,536.19 1327.30,535.55 1328.77,534.90 1330.24,534.26 1331.70,533.62 1333.17,532.98 1334.64,532.35 1336.11,531.71 1337.58,531.08 1339.04,530.45 1340.51,529.82 1341.98,529.19 1343.45,528.56 1344.91,527.94 1346.38,527.31 1347.85,526.69 1349.32,526.07 1350.78,525.45 1352.25,524.84 1353.72,524.22 1355.19,523.61 1356.65,523.00 1358.12,522.39 1359.59,521.78 1361.06,521.17 1362.52,520.57 1363.99,519.97 1365.46,519.37 1366.93,518.77 1368.39,518.17 1369.86,517.57 1371.33,516.98 1372.80,516.38 1374.27,515.79 1375.73,515.20 1377.20,514.61 1378.67,514.03 1380.14,513.44 1381.60,512.86 1383.07,512.28 1384.54,511.70 1386.01,511.12 1387.47,510.54 1388.94,509.97 1390.41,509.39 1391.88,508.82 1393.34,508.25 1394.81,507.68 1396.28,507.11 1397.75,506.55 1399.21,505.98 1400.68,505.42 1402.15,504.86 1403.62,504.30 1405.08,503.74 1406.55,503.18 1408.02,502.63 1409.49,502.08 1410.95,501.52 1412.42,500.97 1413.89,500.42 1415.36,499.88 1416.83,499.33 1418.29,498.79 1419.76,498.24 1421.23,497.70 1422.70,497.16 1424.16,496.63 1425.63,496.09 1427.10,495.55 1428.57,495.02 1430.03,494.49 1431.50,493.96 1432.97,493.43 1434.44,492.90 1435.90,492.37 1437.37,491.85 1438.84,491.33 1440.31,490.81 1441.77,490.28 1443.24,489.77 1444.71,489.25 1446.18,488.73 1447.64,488.22 1449.11,487.71 1450.58,487.19 1452.05,486.68 1453.52,486.18 1454.98,485.67 1456.45,485.16 1457.92,484.66 1459.39,484.16 1460.85,483.65 1462.32,483.16 1463.79,482.66 1465.26,482.16 1466.72,481.66 1468.19,481.17 1469.66,480.68 1471.13,480.19 1472.59,479.70 1474.06,479.21 1475.53,478.72 1477.00,478.23 1478.46,477.75 1479.93,477.27 1481.40,476.78 1482.87,476.30 1484.33,475.83 1485.80,475.35 1487.27,474.87 1488.74,474.40 1490.20,473.92 1491.67,473.45 1493.14,472.98 1494.61,472.51 1496.08,472.04 1497.54,471.58 1499.01,471.11 1500.48,470.65 1501.95,470.19 1503.41,469.72 1504.88,469.26 1506.35,468.81 1507.82,468.35 1509.28,467.89 1510.75,467.44 1512.22,466.98 1513.69,466.53 1515.15,466.08 1516.62,465.63 1518.09,465.19 1519.56,464.74 1521.02,464.29 1522.49,463.85 1523.96,463.41 1525.43,462.96 1526.89,462.52 1528.36,462.09 1529.83,461.65 1531.30,461.21 1532.77,460.78 1534.23,460.34 1535.70,459.91 1537.17,459.48 1538.64,459.05 1540.10,458.62 1541.57,458.19 1543.04,457.77 1544.51,457.34 1545.97,456.92 1547.44,456.49 1548.91,456.07 1550.38,455.65 1551.84,455.23 1553.31,454.82 1554.78,454.40 1556.25,453.99 1557.71,453.57 1559.18,453.16 1560.65,452.75 1562.12,452.34 1563.58,451.93 1565.05,451.52 1566.52,451.11 1567.99,450.71 1569.45,450.30 1570.92,449.90 1572.39,449.50 1573.86,449.10 1575.33,448.70 1576.79,448.30 1578.26,447.90 1579.73,447.51 1581.20,447.11 1582.66,446.72 1584.13,446.33 1585.60,445.94 1587.07,445.55 1588.53,445.16 1590.00,444.77 1591.47,444.38 1592.94,444.00 1594.40,443.61 1595.87,443.23 1597.34,442.85 1598.81,442.47 1600.27,442.09 1601.74,441.71 1603.21,441.33 1604.68,440.96 1606.14,440.58 1607.61,440.21 1609.08,439.83 1610.55,439.46 1612.02,439.09 1613.48,438.72 1614.95,438.35 1616.42,437.99 1617.89,437.62 1619.35,437.25 1620.82,436.89 1622.29,436.53 1623.76,436.17 1625.22,435.80 1626.69,435.44 1628.16,435.09 1629.63,434.73 1631.09,434.37 1632.56,434.02 1634.03,433.66 1635.50,433.31 1636.96,432.96 1638.43,432.61 1639.90,432.26 1641.37,431.91 1642.83,431.56 1644.30,431.21 1645.77,430.87 1647.24,430.52 1648.71,430.18 1650.17,429.84 1651.64,429.49 1653.11,429.15 1654.58,428.81 1656.04,428.48 1657.51,428.14 1658.98,427.80 1660.45,427.47 1661.91,427.13 1663.38,426.80 1664.85,426.47 1666.32,426.13 1667.78,425.80 1669.25,425.48 1670.72,425.15 1672.19,424.82 1673.65,424.49 1675.12,424.17 1676.59,423.84 1678.06,423.52 1679.52,423.20 1680.99,422.88 1682.46,422.56 1683.93,422.24 1685.39,421.92 1686.86,421.60 1688.33,421.29 1689.80,420.97 1691.27,420.66 1692.73,420.34 1694.20,420.03 1695.67,419.72 1697.14,419.41 1698.60,419.10 1700.07,418.79 1701.54,418.48 1703.01,418.17 1704.47,417.87 1705.94,417.56 1707.41,417.26 1708.88,416.96 1710.34,416.65 1711.81,416.35 1713.28,416.05 1714.75,415.75 1716.21,415.46 1717.68,415.16 1719.15,414.86 1720.62,414.57 1722.08,414.27 1723.55,413.98 1725.02,413.68 1726.49,413.39 1727.96,413.10 1729.42,412.81 1730.89,412.52 1732.36,412.23 1733.83,411.95 1735.29,411.66 1736.76,411.37 1738.23,411.09 1739.70,410.81 1741.16,410.52 1742.63,410.24 1744.10,409.96 1745.57,409.68 1747.03,409.40 1748.50,409.12 1749.97,408.84 1751.44,408.57 1752.90,408.29 1754.37,408.02 1755.84,407.74 1757.31,407.47 1758.77,407.19 1760.24,406.92 1761.71,406.65 1763.18,406.38 1764.64,406.11 1766.11,405.85 1767.58,405.58 1769.05,405.31 1770.52,405.05 1771.98,404.78 1773.45,404.52 1774.92,404.25 1776.39,403.99 1777.85,403.73 1779.32,403.47 1780.79,403.21 1782.26,402.95 1783.72,402.69 1785.19,402.43 1786.66,402.18 1788.13,401.92 1789.59,401.67 1791.06,401.41 1792.53,401.16 1794.00,400.91 1795.46,400.65 1796.93,400.40 1798.40,400.15 1799.87,399.90 1801.33,399.65 1802.80,399.41 1804.27,399.16 1805.74,398.91 1807.21,398.67 1808.67,398.42 1810.14,398.18 1811.61,397.94 1813.08,397.69 1814.54,397.45 1816.01,397.21 1817.48,396.97 1818.95,396.73 1820.41,396.49 1821.88,396.25 1823.35,396.02 1824.82,395.78 1826.28,395.55 1827.75,395.31 1829.22,395.08 1830.69,394.84 1832.15,394.61 1833.62,394.38 1835.09,394.15 1836.56,393.92 1838.02,393.69 1839.49,393.46 1840.96,393.23 1842.43,393.00 1843.89,392.78 1845.36,392.55 1846.83,392.33 1848.30,392.10 1849.77,391.88 1851.23,391.65 1852.70,391.43 1854.17,391.21 1855.64,390.99 1857.10,390.77 1858.57,390.55 1860.04,390.33 1861.51,390.11 1862.97,389.90 1864.44,389.68 1865.91,389.46 1867.38,389.25 1868.84,389.03 1870.31,388.82 1871.78,388.61 1873.25,388.39 1874.71,388.18 1876.18,387.97 1877.65,387.76 1879.12,387.55 1880.58,387.34 1882.05,387.13 1883.52,386.93 1884.99,386.72 1886.46,386.51 1887.92,386.31 1889.39,386.10 1890.86,385.90 1892.33,385.69 1893.79,385.49 1895.26,385.29 1896.73,385.09 1898.20,384.89 1899.66,384.68 1901.13,384.48 1902.60,384.29 1904.07,384.09 1905.53,383.89 1907.00,383.69 1908.47,383.50 1909.94,383.30 1911.40,383.10 1912.87,382.91 1914.34,382.72 1915.81,382.52 1917.27,382.33 1918.74,382.14 1920.21,381.95 1921.68,381.76 1923.14,381.57 1924.61,381.38 1926.08,381.19 1927.55,381.00 1929.02,380.81 1930.48,380.62 1931.95,380.44 1933.42,380.25 1934.89,380.07 1936.35,379.88 1937.82,379.70 1939.29,379.51 1940.76,379.33 1942.22,379.15 1943.69,378.97 1945.16,378.79 1946.63,378.61 1948.09,378.43 1949.56,378.25 1951.03,378.07 1952.50,377.89 1953.96,377.71 1955.43,377.53 1956.90,377.36 1958.37,377.18 1959.83,377.01 1961.30,376.83 1962.77,376.66 1964.24,376.49 1965.71,376.31 1967.17,376.14 1968.64,375.97 1970.11,375.80 1971.58,375.63 1973.04,375.46 1974.51,375.29 1975.98,375.12 1977.45,374.95 1978.91,374.78 1980.38,374.61 1981.85,374.45 1983.32,374.28 1984.78,374.12 1986.25,373.95 1987.72,373.79 1989.19,373.62 1990.65,373.46 1992.12,373.30 1993.59,373.13 1995.06,372.97 1996.52,372.81 1997.99,372.65 1999.46,372.49 2000.93,372.33 2002.39,372.17 2003.86,372.01 2005.33,371.85 2006.80,371.70 2008.27,371.54 2009.73,371.38 2011.20,371.23 2012.67,371.07 2014.14,370.92 2015.60,370.76 2017.07,370.61 2018.54,370.46 2020.01,370.30 2021.47,370.15 2022.94,370.00 2024.41,369.85 2025.88,369.70 2027.34,369.55" fill="none" stroke="#000000" stroke-width="5.5" stroke-linejoin="round"/>
<polyline points="267.70,1506.50 269.17,1467.06 270.64,1446.86 272.10,1430.66 273.57,1416.65 275.04,1404.09 276.51,1392.60 277.97,1381.93 279.44,1371.92 280.91,1362.47 282.38,1353.49 283.84,1344.92 285.31,1336.70 286.78,1328.80 288.25,1321.18 289.71,1313.82 291.18,1306.69 292.65,1299.78 294.12,1293.06 295.58,1286.52 297.05,1280.15 298.52,1273.94 299.99,1267.88 301.45,1261.95 302.92,1256.15 304.39,1250.48 305.86,1244.92 307.33,1239.47 308.79,1234.12 310.26,1228.88 311.73,1223.72 313.20,1218.66 314.66,1213.69 316.13,1208.79 317.60,1203.98 319.07,1199.24 320.53,1194.58 322.00,1189.98 323.47,1185.45 324.94,1180.99 326.40,1176.59 327.87,1172.25 329.34,1167.97 330.81,1163.75 332.27,1159.58 333.74,1155.46 335.21,1151.40 336.68,1147.38 338.14,1143.42 339.61,1139.50 341.08,1135.62 342.55,1131.80 344.01,1128.01 345.48,1124.27 346.95,1120.57 348.42,1116.90 349.89,1113.28 351.35,1109.70 352.82,1106.15 354.29,1102.64 355.76,1099.16 357.22,1095.72 358.69,1092.32 360.16,1088.94 361.63,1085.60 363.09,1082.29 364.56,1079.01 366.03,1075.76 367.50,1072.54 368.96,1069.35 370.43,1066.19 371.90,1063.06 373.37,1059.95 374.83,1056.87 376.30,1053.82 377.77,1050.79 379.24,1047.79 380.70,1044.81 382.17,1041.86 383.64,1038.93 385.11,1036.03 386.58,1033.15 388.04,1030.29 389.51,1027.45 390.98,1024.64 392.45,1021.84 393.91,1019.07 395.38,1016.32 396.85,1013.59 398.32,1010.88 399.78,1008.19 401.25,1005.52 402.72,1002.87 404.19,1000.24 405.65,997.62 407.12,995.03 408.59,992.45 410.06,989.89 411.52,987.35 412.99,984.83 414.46,982.32 415.93,979.83 417.39,977.36 418.86,974.90 420.33,972.46 421.80,970.03 423.26,967.62 424.73,965.23 426.20,962.85 427.67,960.49 429.14,958.14 430.60,955.81 432.07,953.49 433.54,951.19 435.01,948.90 436.47,946.62 437.94,944.36 439.41,942.11 440.88,939.87 442.34,937.65 443.81,935.44 445.28,933.25 446.75,931.07 448.21,928.90 449.68,926.74 451.15,924.59 452.62,922.46 454.08,920.34 455.55,918.23 457.02,916.13 458.49,914.05 459.95,911.98 461.42,909.91 462.89,907.86 464.36,905.82 465.83,903.80 467.29,901.78 468.76,899.77 470.23,897.78 471.70,895.79 473.16,893.82 474.63,891.85 476.10,889.90 477.57,887.96 479.03,886.02 480.50,884.10 481.97,882.19 483.44,880.28 484.90,878.39 486.37,876.50 487.84,874.63 489.31,872.76 490.77,870.91 492.24,869.06 493.71,867.22 495.18,865.39 496.64,863.57 498.11,861.76 499.58,859.96 501.05,858.17 502.51,856.38 503.98,854.61 505.45,852.84 506.92,851.08 508.39,849.33 509.85,847.59 511.32,845.85 512.79,844.12 514.26,842.41 515.72,840.70 517.19,838.99 518.66,837.30 520.13,835.61 521.59,833.93 523.06,832.26 524.53,830.60 526.00,828.94 527.46,827.29 528.93,825.65 530.40,824.02 531.87,822.39 533.33,820.77 534.80,819.16 536.27,817.55 537.74,815.95 539.20,814.36 540.67,812.78 542.14,811.20 543.61,809.63 545.08,808.06 546.54,806.50 548.01,804.95 549.48,803.41 550.95,801.87 552.41,800.34 553.88,798.81 555.35,797.30 556.82,795.78 558.28,794.28 559.75,792.78 561.22,791.28 562.69,789.80 564.15,788.32 565.62,786.84 567.09,785.37 568.56,783.91 570.02,782.45 571.49,781.00 572.96,779.55 574.43,778.11 575.89,776.68 577.36,775.25 578.83,773.83 580.30,772.41 581.76,771.00 583.23,769.59 584.70,768.19 586.17,766.80 587.64,765.41 589.10,764.02 590.57,762.65 592.04,761.27 593.51,759.90 594.97,758.54 596.44,757.18 597.91,755.83 599.38,754.48 600.84,753.14 602.31,751.80 603.78,750.47 605.25,749.14 606.71,747.82 608.18,746.50 609.65,745.19 611.12,743.88 612.58,742.58 614.05,741.28 615.52,739.99 616.99,738.70 618.45,737.42 619.92,736.14 621.39,734.87 622.86,733.60 624.33,732.33 625.79,731.07 627.26,729.81 628.73,728.56 630.20,727.32 631.66,726.07 633.13,724.84 634.60,723.60 636.07,722.37 637.53,721.15 639.00,719.93 640.47,718.71 641.94,717.50 643.40,716.29 644.87,715.09 646.34,713.89 647.81,712.69 649.27,711.50 650.74,710.31 652.21,709.13 653.68,707.95 655.14,706.78 656.61,705.61 658.08,704.44 659.55,703.28 661.01,702.12 662.48,700.96 663.95,699.81 665.42,698.66 666.89,697.52 668.35,696.38 669.82,695.25 671.29,694.11 672.76,692.98 674.22,691.86 675.69,690.74 677.16,689.62 678.63,688.51 680.09,687.40 681.56,686.29 683.03,685.19 684.50,684.09 685.96,683.00 687.43,681.91 688.90,680.82 690.37,679.73 691.83,678.65 693.30,677.57 694.77,676.50 696.24,675.43 697.70,674.36 699.17,673.30 700.64,672.24 702.11,671.18 703.58,670.13 705.04,669.08 706.51,668.03 707.98,666.99 709.45,665.94 710.91,664.91 712.38,663.87 713.85,662.84 715.32,661.82 716.78,660.79 718.25,659.77 719.72,658.75 721.19,657.74 722.65,656.73 724.12,655.72 725.59,654.71 727.06,653.71 728.52,652.71 729.99,651.71 731.46,650.72 732.93,649.73 734.39,648.74 735.86,647.76 737.33,646.78 738.80,645.80 740.26,644.82 741.73,643.85 743.20,642.88 744.67,641.91 746.14,640.95 747.60,639.99 749.07,639.03 750.54,638.08 752.01,637.12 753.47,636.18 754.94,635.23 756.41,634.28 757.88,633.34 759.34,632.41 760.81,631.47 762.28,630.54 763.75,629.61 765.21,628.68 766.68,627.75 768.15,626.83 769.62,625.91 771.08,625.00 772.55,624.08 774.02,623.17 775.49,622.26 776.95,621.36 778.42,620.45 779.89,619.55 781.36,618.65 782.83,617.76 784.29,616.86 785.76,615.97 787.23,615.08 788.70,614.20 790.16,613.32 791.63,612.44 793.10,611.56 794.57,610.68 796.03,609.81 797.50,608.94 798.97,608.07 800.44,607.20 801.90,606.34 803.37,605.48 804.84,604.62 806.31,603.76 807.77,602.91 809.24,602.06 810.71,601.21 812.18,600.36 813.64,599.52 815.11,598.67 816.58,597.83 818.05,597.00 819.51,596.16 820.98,595.33 822.45,594.50 823.92,593.67 825.39,592.84 826.85,592.02 828.32,591.19 829.79,590.38 831.26,589.56 832.72,588.74 834.19,587.93 835.66,587.12 837.13,586.31 838.59,585.50 840.06,584.70 841.53,583.90 843.00,583.10 844.46,582.30 845.93,581.50 847.40,580.71 848.87,579.92 850.33,579.13 851.80,578.34 853.27,577.55 854.74,576.77 856.20,575.99 857.67,575.21 859.14,574.43 860.61,573.66 862.08,572.88 863.54,572.11 865.01,571.34 866.48,570.58 867.95,569.81 869.41,569.05 870.88,568.29 872.35,567.53 873.82,566.77 875.28,566.01 876.75,565.26 878.22,564.51 879.69,563.76 881.15,563.01 882.62,562.27 884.09,561.52 885.56,560.78 887.02,560.04 888.49,559.30 889.96,558.57 891.43,557.83 892.89,557.10 894.36,556.37 895.83,555.64 897.30,554.91 898.76,554.19 900.23,553.46 901.70,552.74 903.17,552.02 904.64,551.30 906.10,550.59 907.57,549.87 909.04,549.16 910.51,548.45 911.97,547.74 913.44,547.03 914.91,546.33 916.38,545.62 917.84,544.92 919.31,544.22 920.78,543.52 922.25,542.82 923.71,542.13 925.18,541.44 926.65,540.74 928.12,540.05 929.58,539.36 931.05,538.68 932.52,537.99 933.99,537.31 935.45,536.63 936.92,535.95 938.39,535.27 939.86,534.59 941.33,533.92 942.79,533.24 944.26,532.57 945.73,531.90 947.20,531.23 948.66,530.56 950.13,529.90 951.60,529.23 953.07,528.57 954.53,527.91 956.00,527.25 957.47,526.59 958.94,525.94 960.40,525.28 961.87,524.63 963.34,523.98 964.81,523.33 966.27,522.68 967.74,522.03 969.21,521.39 970.68,520.75 972.14,520.10 973.61,519.46 975.08,518.82 976.55,518.18 978.02,517.55 979.48,516.91 980.95,516.28 982.42,515.65 983.89,515.02 985.35,514.39 986.82,513.76 988.29,513.14 989.76,512.51 991.22,511.89 992.69,511.27 994.16,510.65 995.63,510.03 997.09,509.41 998.56,508.79 1000.03,508.18 1001.50,507.57 1002.96,506.95 1004.43,506.34 1005.90,505.74 1007.37,505.13 1008.83,504.52 1010.30,503.92 1011.77,503.31 1013.24,502.71 1014.70,502.11 1016.17,501.51 1017.64,500.91 1019.11,500.32 1020.58,499.72 1022.04,499.13 1023.51,498.53 1024.98,497.94 1026.45,497.35 1027.91,496.76 1029.38,496.18 1030.85,495.59 1032.32,495.01 1033.78,494.42 1035.25,493.84 1036.72,493.26 1038.19,492.68 1039.65,492.10 1041.12,491.53 1042.59,490.95 1044.06,490.38 1045.52,489.80 1046.99,489.23 1048.46,488.66 1049.93,488.09 1051.39,487.52 1052.86,486.96 1054.33,486.39 1055.80,485.83 1057.27,485.26 1058.73,484.70 1060.20,484.14 1061.67,483.58 1063.14,483.02 1064.60,482.47 1066.07,481.91 1067.54,481.36 1069.01,480.80 1070.47,480.25 1071.94,479.70 1073.41,479.15 1074.88,478.60 1076.34,478.06 1077.81,477.51 1079.28,476.96 1080.75,476.42 1082.21,475.88 1083.68,475.34 1085.15,474.80 1086.62,474.26 1088.08,473.72 1089.55,473.18 1091.02,472.65 1092.49,472.11 1093.95,471.58 1095.42,471.05 1096.89,470.52 1098.36,469.99 1099.83,469.46 1101.29,468.93 1102.76,468.40 1104.23,467.88 1105.70,467.35 1107.16,466.83 1108.63,466.31 1110.10,465.79 1111.57,465.27 1113.03,464.75 1114.50,464.23 1115.97,463.71 1117.44,463.20 1118.90,462.68 1120.37,462.17 1121.84,461.66 1123.31,461.15 1124.77,460.64 1126.24,460.13 1127.71,459.62 1129.18,459.11 1130.64,458.61 1132.11,458.10 1133.58,457.60 1135.05,457.09 1136.52,456.59 1137.98,456.09 1139.45,455.59 1140.92,455.09 1142.39,454.60 1143.85,454.10 1145.32,453.60 1146.79,453.11 1148.26,452.62 1149.72,452.12 1151.19,451.63 1152.66,451.14 1154.13,450.65 1155.59,450.16 1157.06,449.68 1158.53,449.19 1160.00,448.70 1161.46,448.22 1162.93,447.74 1164.40,447.25 1165.87,446.77 1167.33,446.29 1168.80,445.81 1170.27,445.33 1171.74,444.85 1173.20,444.38 1174.67,443.90 1176.14,443.43 1177.61,442.95 1179.08,442.48 1180.54,442.01 1182.01,441.54 1183.48,441.07 1184.95,440.60 1186.41,440.13 1187.88,439.66 1189.35,439.20 1190.82,438.73 1192.28,438.27 1193.75,437.80 1195.22,437.34 1196.69,436.88 1198.15,436.42 1199.62,435.96 1201.09,435.50 1202.56,435.04 1204.02,434.59 1205.49,434.13 1206.96,433.67 1208.43,433.22 1209.89,432.77 1211.36,432.31 1212.83,431.86 1214.30,431.41 1215.77,430.96 1217.23,430.51 1218.70,430.06 1220.17,429.62 1221.64,429.17 1223.10,428.73 1224.57,428.28 1226.04,427.84 1227.51,427.39 1228.97,426.95 1230.44,426.51 1231.91,426.07 1233.38,425.63 1234.84,425.19 1236.31,424.76 1237.78,424.32 1239.25,423.88 1240.71,423.45 1242.18,423.01 1243.65,422.58 1245.12,422.15 1246.58,421.72 1248.05,421.28 1249.52,420.85 1250.99,420.43 1252.45,420.00 1253.92,419.57 1255.39,419.14 1256.86,418.72 1258.33,418.29 1259.79,417.87 1261.26,417.44 1262.73,417.02 1264.20,416.60 1265.66,416.18 1267.13,415.76 1268.60,415.34 1270.07,414.92 1271.53,414.50 1273.00,414.08 1274.47,413.67 1275.94,413.25 1277.40,412.84 1278.87,412.42 1280.34,412.01 1281.81,411.60 1283.27,411.19 1284.74,410.78 1286.21,410.37 1287.68,409.96 1289.14,409.55 1290.61,409.14 1292.08,408.73 1293.55,408.33 1295.02,407.92 1296.48,407.52 1297.95,407.11 1299.42,406.71 1300.89,406.31 1302.35,405.91 1303.82,405.50 1305.29,405.10 1306.76,404.71 1308.22,404.31 1309.69,403.91 1311.16,403.51 1312.63,403.12 1314.09,402.72 1315.56,402.32 1317.03,401.93 1318.50,401.54 1319.96,401.14 1321.43,400.75 1322.90,400.36 1324.37,399.97 1325.83,399.58 1327.30,399.19 1328.77,398.80 1330.24,398.42 1331.70,398.03 1333.17,397.64 1334.64,397.26 1336.11,396.87 1337.58,396.49 1339.04,396.10 1340.51,395.72 1341.98,395.34 1343.45,394.96 1344.91,394.58 1346.38,394.20 1347.85,393.82 1349.32,393.44 1350.78,393.06 1352.25,392.68 1353.72,392.31 1355.19,391.93 1356.65,391.56 1358.12,391.18 1359.59,390.81 1361.06,390.44 1362.52,390.06 1363.99,389.69 1365.46,389.32 1366.93,388.95 1368.39,388.58 1369.86,388.21 1371.33,387.84 1372.80,387.48 1374.27,387.11 1375.73,386.74 1377.20,386.38 1378.67,386.01 1380.14,385.65 1381.60,385.28 1383.07,384.92 1384.54,384.56 1386.01,384.20 1387.47,383.84 1388.94,383.48 1390.41,383.12 1391.88,382.76 1393.34,382.40 1394.81,382.04 1396.28,381.68 1397.75,381.33 1399.21,380.97 1400.68,380.61 1402.15,380.26 1403.62,379.91 1405.08,379.55 1406.55,379.20 1408.02,378.85 1409.49,378.50 1410.95,378.14 1412.42,377.79 1413.89,377.44 1415.36,377.10 1416.83,376.75 1418.29,376.40 1419.76,376.05 1421.23,375.70 1422.70,375.36 1424.16,375.01 1425.63,374.67 1427.10,374.32 1428.57,373.98 1430.03,373.64 1431.50,373.30 1432.97,372.95 1434.44,372.61 1435.90,372.27 1437.37,371.93 1438.84,371.59 1440.31,371.25 1441.77,370.91 1443.24,370.58 1444.71,370.24 1446.18,369.90 1447.64,369.57 1449.11,369.23 1450.58,368.90 1452.05,368.56 1453.52,368.23 1454.98,367.90 1456.45,367.56 1457.92,367.23 1459.39,366.90 1460.85,366.57 1462.32,366.24 1463.79,365.91 1465.26,365.58 1466.72,365.25 1468.19,364.93 1469.66,364.60 1471.13,364.27 1472.59,363.95 1474.06,363.62 1475.53,363.29 1477.00,362.97 1478.46,362.65 1479.93,362.32 1481.40,362.00 1482.87,361.68 1484.33,361.36 1485.80,361.03 1487.27,360.71 1488.74,360.39 1490.20,360.07 1491.67,359.76 1493.14,359.44 1494.61,359.12 1496.08,358.80 1497.54,358.48 1499.01,358.17 1500.48,357.85 1501.95,357.54 1503.41,357.22 1504.88,356.91 1506.35,356.60 1507.82,356.28 1509.28,355.97 1510.75,355.66 1512.22,355.35 1513.69,355.04 1515.15,354.72 1516.62,354.41 1518.09,354.11 1519.56,353.80 1521.02,353.49 1522.49,353.18 1523.96,352.87 1525.43,352.57 1526.89,352.26 1528.36,351.95 1529.83,351.65 1531.30,351.34 1532.77,351.04 1534.23,350.74 1535.70,350.43 1537.17,350.13 1538.64,349.83 1540.10,349.53 1541.57,349.22 1543.04,348.92 1544.51,348.62 1545.97,348.32 1547.44,348.02 1548.91,347.73 1550.38,347.43 1551.84,347.13 1553.31,346.83 1554.78,346.54 1556.25,346.24 1557.71,345.94 1559.18,345.65 1560.65,345.35 1562.12,345.06 1563.58,344.77 1565.05,344.47 1566.52,344.18 1567.99,343.89 1569.45,343.60 1570.92,343.30 1572.39,343.01 1573.86,342.72 1575.33,342.43 1576.79,342.14 1578.26,341.85 1579.73,341.57 1581.20,341.28 1582.66,340.99 1584.13,340.70 1585.60,340.42 1587.07,340.13 1588.53,339.84 1590.00,339.56 1591.47,339.27 1592.94,338.99 1594.40,338.71 1595.87,338.42 1597.34,338.14 1598.81,337.86 1600.27,337.57 1601.74,337.29 1603.21,337.01 1604.68,336.73 1606.14,336.45 1607.61,336.17 1609.08,335.89 1610.55,335.61 1612.02,335.33 1613.48,335.06 1614.95,334.78 1616.42,334.50 1617.89,334.23 1619.35,333.95 1620.82,333.67 1622.29,333.40 1623.76,333.12 1625.22,332.85 1626.69,332.58 1628.16,332.30 1629.63,332.03 1631.09,331.76 1632.56,331.48 1634.03,331.21 1635.50,330.94 1636.96,330.67 1638.43,330.40 1639.90,330.13 1641.37,329.86 1642.83,329.59 1644.30,329.32 1645.77,329.05 1647.24,328.79 1648.71,328.52 1650.17,328.25 1651.64,327.98 1653.11,327.72 1654.58,327.45 1656.04,327.19 1657.51,326.92 1658.98,326.66 1660.45,326.39 1661.91,326.13 1663.38,325.87 1664.85,325.60 1666.32,325.34 1667.78,325.08 1669.25,324.82 1670.72,324.56 1672.19,324.30 1673.65,324.04 1675.12,323.78 1676.59,323.52 1678.06,323.26 1679.52,323.00 1680.99,322.74 1682.46,322.48 1683.93,322.23 1685.39,321.97 1686.86,321.71 1688.33,321.46 1689.80,321.20 1691.27,320.94 1692.73,320.69 1694.20,320.43 1695.67,320.18 1697.14,319.93 1698.60,319.67 1700.07,319.42 1701.54,319.17 1703.01,318.91 1704.47,318.66 1705.94,318.41 1707.41,318.16 1708.88,317.91 1710.34,317.66 1711.81,317.41 1713.28,317.16 1714.75,316.91 1716.21,316.66 1717.68,316.41 1719.15,316.16 1720.62,315.92 1722.08,315.67 1723.55,315.42 1725.02,315.18 1726.49,314.93 1727.96,314.68 1729.42,314.44 1730.89,314.19 1732.36,313.95 1733.83,313.71 1735.29,313.46 1736.76,313.22 1738.23,312.98 1739.70,312.73 1741.16,312.49 1742.63,312.25 1744.10,312.01 1745.57,311.77 1747.03,311.52 1748.50,311.28 1749.97,311.04 1751.44,310.80 1752.90,310.57 1754.37,310.33 1755.84,310.09 1757.31,309.85 1758.77,309.61 1760.24,309.37 1761.71,309.14 1763.18,308.90 1764.64,308.66 1766.11,308.43 1767.58,308.19 1769.05,307.96 1770.52,307.72 1771.98,307.49 1773.45,307.25 1774.92,307.02 1776.39,306.78 1777.85,306.55 1779.32,306.32 1780.79,306.09 1782.26,305.85 1783.72,305.62 1785.19,305.39 1786.66,305.16 1788.13,304.93 1789.59,304.70 1791.06,304.47 1792.53,304.24 1794.00,304.01 1795.46,303.78 1796.93,303.55 1798.40,303.32 1799.87,303.09 1801.33,302.87 1802.80,302.64 1804.27,302.41 1805.74,302.19 1807.21,301.96 1808.67,301.73 1810.14,301.51 1811.61,301.28 1813.08,301.06 1814.54,300.83 1816.01,300.61 1817.48,300.38 1818.95,300.16 1820.41,299.94 1821.88,299.71 1823.35,299.49 1824.82,299.27 1826.28,299.05 1827.75,298.83 1829.22,298.60 1830.69,298.38 1832.15,298.16 1833.62,297.94 1835.09,297.72 1836.56,297.50 1838.02,297.28 1839.49,297.07 1840.96,296.85 1842.43,296.63 1843.89,296.41 1845.36,296.19 1846.83,295.97 1848.30,295.76 1849.77,295.54 1851.23,295.32 1852.70,295.11 1854.17,294.89 1855.64,294.68 1857.10,294.46 1858.57,294.25 1860.04,294.03 1861.51,293.82 1862.97,293.60 1864.44,293.39 1865.91,293.18 1867.38,292.97 1868.84,292.75 1870.31,292.54 1871.78,292.33 1873.25,292.12 1874.71,291.91 1876.18,291.69 1877.65,291.48 1879.12,291.27 1880.58,291.06 1882.05,290.85 1883.52,290.64 1884.99,290.43 1886.46,290.23 1887.92,290.02 1889.39,289.81 1890.86,289.60 1892.33,289.39 1893.79,289.19 1895.26,288.98 1896.73,288.77 1898.20,288.56 1899.66,288.36 1901.13,288.15 1902.60,287.95 1904.07,287.74 1905.53,287.54 1907.00,287.33 1908.47,287.13 1909.94,286.92 1911.40,286.72 1912.87,286.52 1914.34,286.31 1915.81,286.11 1917.27,285.91 1918.74,285.71 1920.21,285.50 1921.68,285.30 1923.14,285.10 1924.61,284.90 1926.08,284.70 1927.55,284.50 1929.02,284.30 1930.48,284.10 1931.95,283.90 1933.42,283.70 1934.89,283.50 1936.35,283.30 1937.82,283.10 1939.29,282.90 1940.76,282.70 1942.22,282.51 1943.69,282.31 1945.16,282.11 1946.63,281.92 1948.09,281.72 1949.56,281.52 1951.03,281.33 1952.50,281.13 1953.96,280.94 1955.43,280.74 1956.90,280.55 1958.37,280.35 1959.83,280.16 1961.30,279.96 1962.77,279.77 1964.24,279.57 1965.71,279.38 1967.17,279.19 1968.64,279.00 1970.11,278.80 1971.58,278.61 1973.04,278.42 1974.51,278.23 1975.98,278.04 1977.45,277.85 1978.91,277.65 1980.38,277.46 1981.85,277.27 1983.32,277.08 1984.78,276.89 1986.25,276.70 1987.72,276.52 1989.19,276.33 1990.65,276.14 1992.12,275.95 1993.59,275.76 1995.06,275.57 1996.52,275.39 1997.99,275.20 1999.46,275.01 2000.93,274.82 2002.39,274.64 2003.86,274.45 2005.33,274.27 2006.80,274.08 2008.27,273.89 2009.73,273.71 2011.20,273.52 2012.67,273.34 2014.14,273.15 2015.60,272.97 2017.07,272.79 2018.54,272.60 2020.01,272.42 2021.47,272.24 2022.94,272.05 2024.41,271.87 2025.88,271.69 2027.34,271.51" fill="none" stroke="#990000" stroke-width="5.5" stroke-linejoin="round"/>
<polyline points="267.70,1506.50 269.17,1470.79 270.64,1452.00 272.10,1436.82 273.57,1423.62 275.04,1411.74 276.51,1400.83 277.97,1390.67 279.44,1381.12 280.91,1372.08 282.38,1363.48 283.84,1355.24 285.31,1347.34 286.78,1339.73 288.25,1332.38 289.71,1325.27 291.18,1318.37 292.65,1311.67 294.12,1305.16 295.58,1298.81 297.05,1292.62 298.52,1286.58 299.99,1280.67 301.45,1274.89 302.92,1269.24 304.39,1263.69 305.86,1258.26 307.33,1252.93 308.79,1247.69 310.26,1242.55 311.73,1237.50 313.20,1232.53 314.66,1227.64 316.13,1222.83 317.60,1218.09 319.07,1213.43 320.53,1208.83 322.00,1204.30 323.47,1199.84 324.94,1195.43 326.40,1191.08 327.87,1186.80 329.34,1182.56 330.81,1178.38 332.27,1174.26 333.74,1170.18 335.21,1166.15 336.68,1162.17 338.14,1158.23 339.61,1154.34 341.08,1150.50 342.55,1146.69 344.01,1142.93 345.48,1139.20 346.95,1135.52 348.42,1131.87 349.89,1128.26 351.35,1124.69 352.82,1121.15 354.29,1117.65 355.76,1114.18 357.22,1110.74 358.69,1107.34 360.16,1103.97 361.63,1100.63 363.09,1097.32 364.56,1094.03 366.03,1090.78 367.50,1087.56 368.96,1084.36 370.43,1081.19 371.90,1078.05 373.37,1074.93 374.83,1071.84 376.30,1068.77 377.77,1065.73 379.24,1062.72 380.70,1059.72 382.17,1056.75 383.64,1053.81 385.11,1050.88 386.58,1047.98 388.04,1045.10 389.51,1042.24 390.98,1039.41 392.45,1036.59 393.91,1033.80 395.38,1031.02 396.85,1028.26 398.32,1025.53 399.78,1022.81 401.25,1020.11 402.72,1017.43 404.19,1014.77 405.65,1012.13 407.12,1009.50 408.59,1006.90 410.06,1004.31 411.52,1001.73 412.99,999.18 414.46,996.63 415.93,994.11 417.39,991.60 418.86,989.11 420.33,986.64 421.80,984.17 423.26,981.73 424.73,979.30 426.20,976.88 427.67,974.48 429.14,972.10 430.60,969.72 432.07,967.37 433.54,965.02 435.01,962.69 436.47,960.37 437.94,958.07 439.41,955.78 440.88,953.50 442.34,951.24 443.81,948.99 445.28,946.75 446.75,944.52 448.21,942.31 449.68,940.11 451.15,937.92 452.62,935.74 454.08,933.58 455.55,931.42 457.02,929.28 458.49,927.15 459.95,925.03 461.42,922.92 462.89,920.82 464.36,918.74 465.83,916.66 467.29,914.60 468.76,912.54 470.23,910.50 471.70,908.47 473.16,906.44 474.63,904.43 476.10,902.43 477.57,900.43 479.03,898.45 480.50,896.48 481.97,894.52 483.44,892.56 484.90,890.62 486.37,888.68 487.84,886.76 489.31,884.84 490.77,882.93 492.24,881.03 493.71,879.14 495.18,877.26 496.64,875.39 498.11,873.53 499.58,871.68 501.05,869.83 502.51,867.99 503.98,866.16 505.45,864.34 506.92,862.53 508.39,860.73 509.85,858.93 511.32,857.14 512.79,855.36 514.26,853.59 515.72,851.83 517.19,850.07 518.66,848.32 520.13,846.58 521.59,844.85 523.06,843.12 524.53,841.40 526.00,839.69 527.46,837.99 528.93,836.29 530.40,834.60 531.87,832.92 533.33,831.24 534.80,829.58 536.27,827.92 537.74,826.26 539.20,824.61 540.67,822.97 542.14,821.34 543.61,819.71 545.08,818.09 546.54,816.48 548.01,814.87 549.48,813.27 550.95,811.68 552.41,810.09 553.88,808.51 555.35,806.93 556.82,805.36 558.28,803.80 559.75,802.25 561.22,800.70 562.69,799.15 564.15,797.61 565.62,796.08 567.09,794.55 568.56,793.03 570.02,791.52 571.49,790.01 572.96,788.51 574.43,787.01 575.89,785.52 577.36,784.03 578.83,782.55 580.30,781.08 581.76,779.61 583.23,778.15 584.70,776.69 586.17,775.24 587.64,773.79 589.10,772.35 590.57,770.91 592.04,769.48 593.51,768.05 594.97,766.63 596.44,765.22 597.91,763.81 599.38,762.40 600.84,761.00 602.31,759.61 603.78,758.22 605.25,756.83 606.71,755.45 608.18,754.08 609.65,752.71 611.12,751.34 612.58,749.98 614.05,748.62 615.52,747.27 616.99,745.93 618.45,744.59 619.92,743.25 621.39,741.92 622.86,740.59 624.33,739.26 625.79,737.95 627.26,736.63 628.73,735.32 630.20,734.02 631.66,732.72 633.13,731.42 634.60,730.13 636.07,728.84 637.53,727.56 639.00,726.28 640.47,725.00 641.94,723.73 643.40,722.47 644.87,721.21 646.34,719.95 647.81,718.69 649.27,717.45 650.74,716.20 652.21,714.96 653.68,713.72 655.14,712.49 656.61,711.26 658.08,710.04 659.55,708.81 661.01,707.60 662.48,706.38 663.95,705.17 665.42,703.97 666.89,702.77 668.35,701.57 669.82,700.38 671.29,699.19 672.76,698.00 674.22,696.82 675.69,695.64 677.16,694.46 678.63,693.29 680.09,692.12 681.56,690.96 683.03,689.80 684.50,688.64 685.96,687.49 687.43,686.34 688.90,685.20 690.37,684.05 691.83,682.91 693.30,681.78 694.77,680.65 696.24,679.52 697.70,678.39 699.17,677.27 700.64,676.15 702.11,675.04 703.58,673.93 705.04,672.82 706.51,671.71 707.98,670.61 709.45,669.51 710.91,668.42 712.38,667.33 713.85,666.24 715.32,665.16 716.78,664.07 718.25,662.99 719.72,661.92 721.19,660.85 722.65,659.78 724.12,658.71 725.59,657.65 727.06,656.59 728.52,655.53 729.99,654.48 731.46,653.43 732.93,652.38 734.39,651.34 735.86,650.30 737.33,649.26 738.80,648.22 740.26,647.19 741.73,646.16 743.20,645.13 744.67,644.11 746.14,643.09 747.60,642.07 749.07,641.06 750.54,640.05 752.01,639.04 753.47,638.03 754.94,637.03 756.41,636.03 757.88,635.03 759.34,634.03 760.81,633.04 762.28,632.05 763.75,631.07 765.21,630.08 766.68,629.10 768.15,628.12 769.62,627.15 771.08,626.17 772.55,625.20 774.02,624.24 775.49,623.27 776.95,622.31 778.42,621.35 779.89,620.39 781.36,619.44 782.83,618.49 784.29,617.54 785.76,616.59 787.23,615.65 788.70,614.70 790.16,613.77 791.63,612.83 793.10,611.90 794.57,610.96 796.03,610.03 797.50,609.11 798.97,608.18 800.44,607.26 801.90,606.34 803.37,605.43 804.84,604.51 806.31,603.60 807.77,602.69 809.24,601.78 810.71,600.88 812.18,599.98 813.64,599.08 815.11,598.18 816.58,597.29 818.05,596.39 819.51,595.50 820.98,594.61 822.45,593.73 823.92,592.84 825.39,591.96 826.85,591.08 828.32,590.21 829.79,589.33 831.26,588.46 832.72,587.59 834.19,586.72 835.66,585.86 837.13,584.99 838.59,584.13 840.06,583.27 841.53,582.42 843.00,581.56 844.46,580.71 845.93,579.86 847.40,579.01 848.87,578.17 850.33,577.32 851.80,576.48 853.27,575.64 854.74,574.81 856.20,573.97 857.67,573.14 859.14,572.31 860.61,571.48 862.08,570.65 863.54,569.82 865.01,569.00 866.48,568.18 867.95,567.36 869.41,566.55 870.88,565.73 872.35,564.92 873.82,564.11 875.28,563.30 876.75,562.49 878.22,561.69 879.69,560.88 881.15,560.08 882.62,559.28 884.09,558.49 885.56,557.69 887.02,556.90 888.49,556.11 889.96,555.32 891.43,554.53 892.89,553.75 894.36,552.96 895.83,552.18 897.30,551.40 898.76,550.62 900.23,549.85 901.70,549.07 903.17,548.30 904.64,547.53 906.10,546.76 907.57,545.99 909.04,545.23 910.51,544.47 911.97,543.70 913.44,542.95 914.91,542.19 916.38,541.43 917.84,540.68 919.31,539.92 920.78,539.17 922.25,538.43 923.71,537.68 925.18,536.93 926.65,536.19 928.12,535.45 929.58,534.71 931.05,533.97 932.52,533.23 933.99,532.50 935.45,531.76 936.92,531.03 938.39,530.30 939.86,529.57 941.33,528.85 942.79,528.12 944.26,527.40 945.73,526.68 947.20,525.96 948.66,525.24 950.13,524.52 951.60,523.81 953.07,523.09 954.53,522.38 956.00,521.67 957.47,520.96 958.94,520.26 960.40,519.55 961.87,518.85 963.34,518.15 964.81,517.45 966.27,516.75 967.74,516.05 969.21,515.35 970.68,514.66 972.14,513.97 973.61,513.28 975.08,512.59 976.55,511.90 978.02,511.21 979.48,510.53 980.95,509.84 982.42,509.16 983.89,508.48 985.35,507.80 986.82,507.13 988.29,506.45 989.76,505.78 991.22,505.10 992.69,504.43 994.16,503.76 995.63,503.09 997.09,502.43 998.56,501.76 1000.03,501.10 1001.50,500.44 1002.96,499.77 1004.43,499.11 1005.90,498.46 1007.37,497.80 1008.83,497.14 1010.30,496.49 1011.77,495.84 1013.24,495.19 1014.70,494.54 1016.17,493.89 1017.64,493.24 1019.11,492.60 1020.58,491.95 1022.04,491.31 1023.51,490.67 1024.98,490.03 1026.45,489.39 1027.91,488.75 1029.38,488.12 1030.85,487.48 1032.32,486.85 1033.78,486.22 1035.25,485.59 1036.72,484.96 1038.19,484.33 1039.65,483.71 1041.12,483.08 1042.59,482.46 1044.06,481.83 1045.52,481.21 1046.99,480.59 1048.46,479.98 1049.93,479.36 1051.39,478.74 1052.86,478.13 1054.33,477.52 1055.80,476.90 1057.27,476.29 1058.73,475.68 1060.20,475.08 1061.67,474.47 1063.14,473.86 1064.60,473.26 1066.07,472.66 1067.54,472.05 1069.01,471.45 1070.47,470.85 1071.94,470.26 1073.41,469.66 1074.88,469.06 1076.34,468.47 1077.81,467.88 1079.28,467.29 1080.75,466.69 1082.21,466.11 1083.68,465.52 1085.15,464.93 1086.62,464.34 1088.08,463.76 1089.55,463.18 1091.02,462.59 1092.49,462.01 1093.95,461.43 1095.42,460.86 1096.89,460.28 1098.36,459.70 1099.83,459.13 1101.29,458.55 1102.76,457.98 1104.23,457.41 1105.70,456.84 1107.16,456.27 1108.63,455.70 1110.10,455.13 1111.57,454.57 1113.03,454.00 1114.50,453.44 1115.97,452.88 1117.44,452.32 1118.90,451.76 1120.37,451.20 1121.84,450.64 1123.31,450.08 1124.77,449.53 1126.24,448.97 1127.71,448.42 1129.18,447.87 1130.64,447.31 1132.11,446.76 1133.58,446.22 1135.05,445.67 1136.52,445.12 1137.98,444.58 1139.45,444.03 1140.92,443.49 1142.39,442.94 1143.85,442.40 1145.32,441.86 1146.79,441.32 1148.26,440.78 1149.72,440.25 1151.19,439.71 1152.66,439.18 1154.13,438.64 1155.59,438.11 1157.06,437.58 1158.53,437.05 1160.00,436.52 1161.46,435.99 1162.93,435.46 1164.40,434.93 1165.87,434.41 1167.33,433.88 1168.80,433.36 1170.27,432.84 1171.74,432.31 1173.20,431.79 1174.67,431.27 1176.14,430.76 1177.61,430.24 1179.08,429.72 1180.54,429.21 1182.01,428.69 1183.48,428.18 1184.95,427.66 1186.41,427.15 1187.88,426.64 1189.35,426.13 1190.82,425.62 1192.28,425.12 1193.75,424.61 1195.22,424.10 1196.69,423.60 1198.15,423.09 1199.62,422.59 1201.09,422.09 1202.56,421.59 1204.02,421.09 1205.49,420.59 1206.96,420.09 1208.43,419.59 1209.89,419.10 1211.36,418.60 1212.83,418.11 1214.30,417.61 1215.77,417.12 1217.23,416.63 1218.70,416.14 1220.17,415.65 1221.64,415.16 1223.10,414.67 1224.57,414.19 1226.04,413.70 1227.51,413.21 1228.97,412.73 1230.44,412.25 1231.91,411.76 1233.38,411.28 1234.84,410.80 1236.31,410.32 1237.78,409.84 1239.25,409.37 1240.71,408.89 1242.18,408.41 1243.65,407.94 1245.12,407.46 1246.58,406.99 1248.05,406.52 1249.52,406.04 1250.99,405.57 1252.45,405.10 1253.92,404.63 1255.39,404.17 1256.86,403.70 1258.33,403.23 1259.79,402.77 1261.26,402.30 1262.73,401.84 1264.20,401.37 1265.66,400.91 1267.13,400.45 1268.60,399.99 1270.07,399.53 1271.53,399.07 1273.00,398.61 1274.47,398.15 1275.94,397.70 1277.40,397.24 1278.87,396.79 1280.34,396.33 1281.81,395.88 1283.27,395.43 1284.74,394.98 1286.21,394.53 1287.68,394.08 1289.14,393.63 1290.61,393.18 1292.08,392.73 1293.55,392.28 1295.02,391.84 1296.48,391.39 1297.95,390.95 1299.42,390.51 1300.89,390.06 1302.35,389.62 1303.82,389.18 1305.29,388.74 1306.76,388.30 1308.22,387.86 1309.69,387.42 1311.16,386.99 1312.63,386.55 1314.09,386.11 1315.56,385.68 1317.03,385.25 1318.50,384.81 1319.96,384.38 1321.43,383.95 1322.90,383.52 1324.37,383.09 1325.83,382.66 1327.30,382.23 1328.77,381.80 1330.24,381.37 1331.70,380.95 1333.17,380.52 1334.64,380.10 1336.11,379.67 1337.58,379.25 1339.04,378.83 1340.51,378.41 1341.98,377.98 1343.45,377.56 1344.91,377.14 1346.38,376.73 1347.85,376.31 1349.32,375.89 1350.78,375.47 1352.25,375.06 1353.72,374.64 1355.19,374.23 1356.65,373.81 1358.12,373.40 1359.59,372.99 1361.06,372.58 1362.52,372.16 1363.99,371.75 1365.46,371.35 1366.93,370.94 1368.39,370.53 1369.86,370.12 1371.33,369.71 1372.80,369.31 1374.27,368.90 1375.73,368.50 1377.20,368.09 1378.67,367.69 1380.14,367.29 1381.60,366.89 1383.07,366.49 1384.54,366.09 1386.01,365.69 1387.47,365.29 1388.94,364.89 1390.41,364.49 1391.88,364.09 1393.34,363.70 1394.81,363.30 1396.28,362.91 1397.75,362.51 1399.21,362.12 1400.68,361.73 1402.15,361.33 1403.62,360.94 1405.08,360.55 1406.55,360.16 1408.02,359.77 1409.49,359.38 1410.95,358.99 1412.42,358.61 1413.89,358.22 1415.36,357.83 1416.83,357.45 1418.29,357.06 1419.76,356.68 1421.23,356.29 1422.70,355.91 1424.16,355.53 1425.63,355.15 1427.10,354.77 1428.57,354.39 1430.03,354.01 1431.50,353.63 1432.97,353.25 1434.44,352.87 1435.90,352.49 1437.37,352.12 1438.84,351.74 1440.31,351.36 1441.77,350.99 1443.24,350.62 1444.71,350.24 1446.18,349.87 1447.64,349.50 1449.11,349.12 1450.58,348.75 1452.05,348.38 1453.52,348.01 1454.98,347.64 1456.45,347.28 1457.92,346.91 1459.39,346.54 1460.85,346.17 1462.32,345.81 1463.79,345.44 1465.26,345.08 1466.72,344.71 1468.19,344.35 1469.66,343.99 1471.13,343.62 1472.59,343.26 1474.06,342.90 1475.53,342.54 1477.00,342.18 1478.46,341.82 1479.93,341.46 1481.40,341.10 1482.87,340.74 1484.33,340.39 1485.80,340.03 1487.27,339.67 1488.74,339.32 1490.20,338.96 1491.67,338.61 1493.14,338.26 1494.61,337.90 1496.08,337.55 1497.54,337.20 1499.01,336.85 1500.48,336.50 1501.95,336.15 1503.41,335.80 1504.88,335.45 1506.35,335.10 1507.82,334.75 1509.28,334.40 1510.75,334.06 1512.22,333.71 1513.69,333.36 1515.15,333.02 1516.62,332.67 1518.09,332.33 1519.56,331.99 1521.02,331.64 1522.49,331.30 1523.96,330.96 1525.43,330.62 1526.89,330.28 1528.36,329.94 1529.83,329.60 1531.30,329.26 1532.77,328.92 1534.23,328.58 1535.70,328.24 1537.17,327.91 1538.64,327.57 1540.10,327.24 1541.57,326.90 1543.04,326.56 1544.51,326.23 1545.97,325.90 1547.44,325.56 1548.91,325.23 1550.38,324.90 1551.84,324.57 1553.31,324.24 1554.78,323.91 1556.25,323.58 1557.71,323.25 1559.18,322.92 1560.65,322.59 1562.12,322.26 1563.58,321.93 1565.05,321.61 1566.52,321.28 1567.99,320.95 1569.45,320.63 1570.92,320.30 1572.39,319.98 1573.86,319.66 1575.33,319.33 1576.79,319.01 1578.26,318.69 1579.73,318.37 1581.20,318.04 1582.66,317.72 1584.13,317.40 1585.60,317.08 1587.07,316.76 1588.53,316.45 1590.00,316.13 1591.47,315.81 1592.94,315.49 1594.40,315.18 1595.87,314.86 1597.34,314.54 1598.81,314.23 1600.27,313.91 1601.74,313.60 1603.21,313.28 1604.68,312.97 1606.14,312.66 1607.61,312.35 1609.08,312.03 1610.55,311.72 1612.02,311.41 1613.48,311.10 1614.95,310.79 1616.42,310.48 1617.89,310.17 1619.35,309.86 1620.82,309.56 1622.29,309.25 1623.76,308.94 1625.22,308.64 1626.69,308.33 1628.16,308.02 1629.63,307.72 1631.09,307.41 1632.56,307.11 1634.03,306.81 1635.50,306.50 1636.96,306.20 1638.43,305.90 1639.90,305.60 1641.37,305.29 1642.83,304.99 1644.30,304.69 1645.77,304.39 1647.24,304.09 1648.71,303.79 1650.17,303.49 1651.64,303.20 1653.11,302.90 1654.58,302.60 1656.04,302.30 1657.51,302.01 1658.98,301.71 1660.45,301.42 1661.91,301.12 1663.38,300.83 1664.85,300.53 1666.32,300.24 1667.78,299.95 1669.25,299.65 1670.72,299.36 1672.19,299.07 1673.65,298.78 1675.12,298.49 1676.59,298.20 1678.06,297.91 1679.52,297.62 1680.99,297.33 1682.46,297.04 1683.93,296.75 1685.39,296.46 1686.86,296.17 1688.33,295.89 1689.80,295.60 1691.27,295.31 1692.73,295.03 1694.20,294.74 1695.67,294.46 1697.14,294.17 1698.60,293.89 1700.07,293.60 1701.54,293.32 1703.01,293.04 1704.47,292.76 1705.94,292.47 1707.41,292.19 1708.88,291.91 1710.34,291.63 1711.81,291.35 1713.28,291.07 1714.75,290.79 1716.21,290.51 1717.68,290.23 1719.15,289.95 1720.62,289.68 1722.08,289.40 1723.55,289.12 1725.02,288.85 1726.49,288.57 1727.96,288.29 1729.42,288.02 1730.89,287.74 1732.36,287.47 1733.83,287.19 1735.29,286.92 1736.76,286.65 1738.23,286.37 1739.70,286.10 1741.16,285.83 1742.63,285.56 1744.10,285.29 1745.57,285.02 1747.03,284.75 1748.50,284.48 1749.97,284.21 1751.44,283.94 1752.90,283.67 1754.37,283.40 1755.84,283.13 1757.31,282.86 1758.77,282.60 1760.24,282.33 1761.71,282.06 1763.18,281.80 1764.64,281.53 1766.11,281.26 1767.58,281.00 1769.05,280.74 1770.52,280.47 1771.98,280.21 1773.45,279.94 1774.92,279.68 1776.39,279.42 1777.85,279.16 1779.32,278.89 1780.79,278.63 1782.26,278.37 1783.72,278.11 1785.19,277.85 1786.66,277.59 1788.13,277.33 1789.59,277.07 1791.06,276.81 1792.53,276.55 1794.00,276.30 1795.46,276.04 1796.93,275.78 1798.40,275.52 1799.87,275.27 1801.33,275.01 1802.80,274.75 1804.27,274.50 1805.74,274.24 1807.21,273.99 1808.67,273.73 1810.14,273.48 1811.61,273.23 1813.08,272.97 1814.54,272.72 1816.01,272.47 1817.48,272.22 1818.95,271.96 1820.41,271.71 1821.88,271.46 1823.35,271.21 1824.82,270.96 1826.28,270.71 1827.75,270.46 1829.22,270.21 1830.69,269.96 1832.15,269.71 1833.62,269.46 1835.09,269.22 1836.56,268.97 1838.02,268.72 1839.49,268.47 1840.96,268.23 1842.43,267.98 1843.89,267.74 1845.36,267.49 1846.83,267.24 1848.30,267.00 1849.77,266.76 1851.23,266.51 1852.70,266.27 1854.17,266.02 1855.64,265.78 1857.10,265.54 1858.57,265.30 1860.04,265.05 1861.51,264.81 1862.97,264.57 1864.44,264.33 1865.91,264.09 1867.38,263.85 1868.84,263.61 1870.31,263.37 1871.78,263.13 1873.25,262.89 1874.71,262.65 1876.18,262.41 1877.65,262.18 1879.12,261.94 1880.58,261.70 1882.05,261.46 1883.52,261.23 1884.99,260.99 1886.46,260.76 1887.92,260.52 1889.39,260.28 1890.86,260.05 1892.33,259.81 1893.79,259.58 1895.26,259.35 1896.73,259.11 1898.20,258.88 1899.66,258.65 1901.13,258.41 1902.60,258.18 1904.07,257.95 1905.53,257.72 1907.00,257.49 1908.47,257.26 1909.94,257.02 1911.40,256.79 1912.87,256.56 1914.34,256.33 1915.81,256.10 1917.27,255.88 1918.74,255.65 1920.21,255.42 1921.68,255.19 1923.14,254.96 1924.61,254.73 1926.08,254.51 1927.55,254.28 1929.02,254.05 1930.48,253.83 1931.95,253.60 1933.42,253.38 1934.89,253.15 1936.35,252.93 1937.82,252.70 1939.29,252.48 1940.76,252.25 1942.22,252.03 1943.69,251.81 1945.16,251.58 1946.63,251.36 1948.09,251.14 1949.56,250.91 1951.03,250.69 1952.50,250.47 1953.96,250.25 1955.43,250.03 1956.90,249.81 1958.37,249.59 1959.83,249.37 1961.30,249.15 1962.77,248.93 1964.24,248.71 1965.71,248.49 1967.17,248.27 1968.64,248.05 1970.11,247.83 1971.58,247.62 1973.04,247.40 1974.51,247.18 1975.98,246.97 1977.45,246.75 1978.91,246.53 1980.38,246.32 1981.85,246.10 1983.32,245.89 1984.78,245.67 1986.25,245.46 1987.72,245.24 1989.19,245.03 1990.65,244.81 1992.12,244.60 1993.59,244.39 1995.06,244.17 1996.52,243.96 1997.99,243.75 1999.46,243.54 2000.93,243.32 2002.39,243.11 2003.86,242.90 2005.33,242.69 2006.80,242.48 2008.27,242.27 2009.73,242.06 2011.20,241.85 2012.67,241.64 2014.14,241.43 2015.60,241.22 2017.07,241.01 2018.54,240.80 2020.01,240.59 2021.47,240.39 2022.94,240.18 2024.41,239.97 2025.88,239.76 2027.34,239.56" fill="none" stroke="#0000ff" stroke-width="5.5" stroke-linejoin="round"/>
<path d="M267.70,1526.00 L248.50,1487.00 L286.90,1487.00 Z M267.70,1514.00 L278.38,1492.30 L257.02,1492.30 Z" fill="#008000" fill-rule="evenodd"/>
<path d="M283.99,1518.30 L264.79,1479.30 L303.19,1479.30 Z M283.99,1506.30 L294.68,1484.60 L273.31,1484.60 Z" fill="#008000" fill-rule="evenodd"/>
<path d="M300.29,1518.30 L281.09,1479.30 L319.49,1479.30 Z M300.29,1506.30 L310.97,1484.60 L289.60,1484.60 Z" fill="#008000" fill-rule="evenodd"/>
<path d="M316.58,1518.30 L297.38,1479.30 L335.78,1479.30 Z M316.58,1506.30 L327.26,1484.60 L305.90,1484.60 Z" fill="#008000" fill-rule="evenodd"/>
<path d="M365.46,1517.40 L346.26,1478.40 L384.66,1478.40 Z M365.46,1505.40 L376.14,1483.70 L354.77,1483.70 Z" fill="#008000" fill-rule="evenodd"/>
<path d="M414.34,1495.84 L395.14,1456.84 L433.54,1456.84 Z M414.34,1483.84 L425.02,1462.14 L403.65,1462.14 Z" fill="#008000" fill-rule="evenodd"/>
<path d="M463.22,1427.94 L444.02,1388.94 L482.42,1388.94 Z M463.22,1415.94 L473.90,1394.24 L452.53,1394.24 Z" fill="#008000" fill-rule="evenodd"/>
<line x1="560.97" y1="1312.44" x2="560.97" y2="1308.84" stroke="#008000" stroke-width="4.9"/>
<rect x="544.67" y="1306.14" width="32.6" height="5.4" fill="#008000"/>
<line x1="560.97" y1="1351.44" x2="560.97" y2="1355.05" stroke="#008000" stroke-width="4.9"/>
<rect x="544.67" y="1352.35" width="32.6" height="5.4" fill="#008000"/>
<path d="M560.97,1351.44 L541.77,1312.44 L580.17,1312.44 Z M560.97,1339.44 L571.66,1317.74 L550.29,1317.74 Z" fill="#008000" fill-rule="evenodd"/>
<line x1="658.73" y1="1135.32" x2="658.73" y2="1114.39" stroke="#008000" stroke-width="4.9"/>
<rect x="642.43" y="1111.69" width="32.6" height="5.4" fill="#008000"/>
<line x1="658.73" y1="1174.32" x2="658.73" y2="1195.25" stroke="#008000" stroke-width="4.9"/>
<rect x="642.43" y="1192.55" width="32.6" height="5.4" fill="#008000"/>
<path d="M658.73,1174.32 L639.53,1135.32 L677.93,1135.32 Z M658.73,1162.32 L669.42,1140.62 L648.05,1140.62 Z" fill="#008000" fill-rule="evenodd"/>
<line x1="756.49" y1="1004.40" x2="756.49" y2="992.59" stroke="#008000" stroke-width="4.9"/>
<rect x="740.19" y="989.89" width="32.6" height="5.4" fill="#008000"/>
<line x1="756.49" y1="1043.40" x2="756.49" y2="1055.22" stroke="#008000" stroke-width="4.9"/>
<rect x="740.19" y="1052.52" width="32.6" height="5.4" fill="#008000"/>
<path d="M756.49,1043.40 L737.29,1004.40 L775.69,1004.40 Z M756.49,1031.40 L767.17,1009.70 L745.81,1009.70 Z" fill="#008000" fill-rule="evenodd"/>
<rect x="837.95" y="894.14" width="32.6" height="5.4" fill="#008000"/>
<rect x="837.95" y="932.64" width="32.6" height="5.4" fill="#008000"/>
<path d="M854.25,935.59 L835.05,896.59 L873.45,896.59 Z M854.25,923.59 L864.93,901.89 L843.56,901.89 Z" fill="#008000" fill-rule="evenodd"/>
<line x1="952.01" y1="757.97" x2="952.01" y2="749.24" stroke="#008000" stroke-width="4.9"/>
<rect x="935.71" y="746.53" width="32.6" height="5.4" fill="#008000"/>
<line x1="952.01" y1="796.97" x2="952.01" y2="805.71" stroke="#008000" stroke-width="4.9"/>
<rect x="935.71" y="803.01" width="32.6" height="5.4" fill="#008000"/>
<path d="M952.01,796.97 L932.81,757.97 L971.21,757.97 Z M952.01,784.97 L962.69,763.27 L941.32,763.27 Z" fill="#008000" fill-rule="evenodd"/>
<line x1="1049.76" y1="705.35" x2="1049.76" y2="680.57" stroke="#008000" stroke-width="4.9"/>
<rect x="1033.46" y="677.87" width="32.6" height="5.4" fill="#008000"/>
<line x1="1049.76" y1="744.35" x2="1049.76" y2="769.13" stroke="#008000" stroke-width="4.9"/>
<rect x="1033.46" y="766.43" width="32.6" height="5.4" fill="#008000"/>
<path d="M1049.76,744.35 L1030.56,705.35 L1068.96,705.35 Z M1049.76,732.35 L1060.45,710.65 L1039.08,710.65 Z" fill="#008000" fill-rule="evenodd"/>
<line x1="1147.52" y1="654.01" x2="1147.52" y2="623.45" stroke="#008000" stroke-width="4.9"/>
<rect x="1131.22" y="620.75" width="32.6" height="5.4" fill="#008000"/>
<line x1="1147.52" y1="693.01" x2="1147.52" y2="723.56" stroke="#008000" stroke-width="4.9"/>
<rect x="1131.22" y="720.86" width="32.6" height="5.4" fill="#008000"/>
<path d="M1147.52,693.01 L1128.32,654.01 L1166.72,654.01 Z M1147.52,681.01 L1158.21,659.31 L1136.84,659.31 Z" fill="#008000" fill-rule="evenodd"/>
<line x1="1245.28" y1="597.53" x2="1245.28" y2="580.84" stroke="#008000" stroke-width="4.9"/>
<rect x="1228.98" y="578.14" width="32.6" height="5.4" fill="#008000"/>
<line x1="1245.28" y1="636.53" x2="1245.28" y2="653.23" stroke="#008000" stroke-width="4.9"/>
<rect x="1228.98" y="650.53" width="32.6" height="5.4" fill="#008000"/>
<path d="M1245.28,636.53 L1226.08,597.53 L1264.48,597.53 Z M1245.28,624.53 L1255.96,602.83 L1234.60,602.83 Z" fill="#008000" fill-rule="evenodd"/>
<line x1="1343.04" y1="560.31" x2="1343.04" y2="535.92" stroke="#008000" stroke-width="4.9"/>
<rect x="1326.74" y="533.22" width="32.6" height="5.4" fill="#008000"/>
<line x1="1343.04" y1="599.31" x2="1343.04" y2="623.71" stroke="#008000" stroke-width="4.9"/>
<rect x="1326.74" y="621.01" width="32.6" height="5.4" fill="#008000"/>
<path d="M1343.04,599.31 L1323.84,560.31 L1362.24,560.31 Z M1343.04,587.31 L1353.72,565.61 L1332.35,565.61 Z" fill="#008000" fill-rule="evenodd"/>
<line x1="1440.80" y1="526.94" x2="1440.80" y2="507.04" stroke="#008000" stroke-width="4.9"/>
<rect x="1424.50" y="504.34" width="32.6" height="5.4" fill="#008000"/>
<line x1="1440.80" y1="565.94" x2="1440.80" y2="585.85" stroke="#008000" stroke-width="4.9"/>
<rect x="1424.50" y="583.15" width="32.6" height="5.4" fill="#008000"/>
<path d="M1440.80,565.94 L1421.60,526.94 L1460.00,526.94 Z M1440.80,553.94 L1451.48,532.24 L1430.11,532.24 Z" fill="#008000" fill-rule="evenodd"/>
<line x1="1538.55" y1="497.42" x2="1538.55" y2="466.87" stroke="#008000" stroke-width="4.9"/>
<rect x="1522.25" y="464.17" width="32.6" height="5.4" fill="#008000"/>
<line x1="1538.55" y1="536.42" x2="1538.55" y2="566.98" stroke="#008000" stroke-width="4.9"/>
<rect x="1522.25" y="564.28" width="32.6" height="5.4" fill="#008000"/>
<path d="M1538.55,536.42 L1519.35,497.42 L1557.75,497.42 Z M1538.55,524.42 L1549.24,502.72 L1527.87,502.72 Z" fill="#008000" fill-rule="evenodd"/>
<line x1="1636.31" y1="455.07" x2="1636.31" y2="441.19" stroke="#008000" stroke-width="4.9"/>
<rect x="1620.01" y="438.49" width="32.6" height="5.4" fill="#008000"/>
<line x1="1636.31" y1="494.07" x2="1636.31" y2="507.94" stroke="#008000" stroke-width="4.9"/>
<rect x="1620.01" y="505.24" width="32.6" height="5.4" fill="#008000"/>
<path d="M1636.31,494.07 L1617.11,455.07 L1655.51,455.07 Z M1636.31,482.07 L1647.00,460.37 L1625.63,460.37 Z" fill="#008000" fill-rule="evenodd"/>
<line x1="1734.07" y1="439.66" x2="1734.07" y2="435.42" stroke="#008000" stroke-width="4.9"/>
<rect x="1717.77" y="432.72" width="32.6" height="5.4" fill="#008000"/>
<line x1="1734.07" y1="478.66" x2="1734.07" y2="482.91" stroke="#008000" stroke-width="4.9"/>
<rect x="1717.77" y="480.21" width="32.6" height="5.4" fill="#008000"/>
<path d="M1734.07,478.66 L1714.87,439.66 L1753.27,439.66 Z M1734.07,466.66 L1744.75,444.96 L1723.39,444.96 Z" fill="#008000" fill-rule="evenodd"/>
<line x1="1831.83" y1="406.29" x2="1831.83" y2="400.89" stroke="#008000" stroke-width="4.9"/>
<rect x="1815.53" y="398.19" width="32.6" height="5.4" fill="#008000"/>
<line x1="1831.83" y1="445.29" x2="1831.83" y2="450.69" stroke="#008000" stroke-width="4.9"/>
<rect x="1815.53" y="447.99" width="32.6" height="5.4" fill="#008000"/>
<path d="M1831.83,445.29 L1812.63,406.29 L1851.03,406.29 Z M1831.83,433.29 L1842.51,411.59 L1821.14,411.59 Z" fill="#008000" fill-rule="evenodd"/>
<path d="M1929.59,417.06 L1910.39,378.06 L1948.79,378.06 Z M1929.59,405.06 L1940.27,383.36 L1918.90,383.36 Z" fill="#008000" fill-rule="evenodd"/>
<rect x="2011.04" y="367.26" width="32.6" height="5.4" fill="#008000"/>
<rect x="2011.04" y="396.78" width="32.6" height="5.4" fill="#008000"/>
<path d="M2027.34,404.22 L2008.14,365.22 L2046.54,365.22 Z M2027.34,392.22 L2038.03,370.52 L2016.66,370.52 Z" fill="#008000" fill-rule="evenodd"/>
<path d="M267.70,1487.00 L248.50,1526.00 L286.90,1526.00 Z M267.70,1499.00 L278.38,1520.70 L257.02,1520.70 Z" fill="#000000" fill-rule="evenodd"/>
<path d="M283.99,1478.02 L264.79,1517.02 L303.19,1517.02 Z M283.99,1490.02 L294.68,1511.72 L273.31,1511.72 Z" fill="#000000" fill-rule="evenodd"/>
<path d="M300.29,1478.02 L281.09,1517.02 L319.49,1517.02 Z M300.29,1490.02 L310.97,1511.72 L289.60,1511.72 Z" fill="#000000" fill-rule="evenodd"/>
<path d="M316.58,1478.02 L297.38,1517.02 L335.78,1517.02 Z M316.58,1490.02 L327.26,1511.72 L305.90,1511.72 Z" fill="#000000" fill-rule="evenodd"/>
<path d="M365.46,1459.02 L346.26,1498.02 L384.66,1498.02 Z M365.46,1471.02 L376.14,1492.72 L354.77,1492.72 Z" fill="#000000" fill-rule="evenodd"/>
<line x1="414.34" y1="1390.74" x2="414.34" y2="1377.38" stroke="#000000" stroke-width="4.9"/>
<rect x="398.04" y="1374.68" width="32.6" height="5.4" fill="#000000"/>
<line x1="414.34" y1="1429.74" x2="414.34" y2="1443.10" stroke="#000000" stroke-width="4.9"/>
<rect x="398.04" y="1440.40" width="32.6" height="5.4" fill="#000000"/>
<path d="M414.34,1390.74 L395.14,1429.74 L433.54,1429.74 Z M414.34,1402.74 L425.02,1424.44 L403.65,1424.44 Z" fill="#000000" fill-rule="evenodd"/>
<line x1="463.22" y1="1284.21" x2="463.22" y2="1257.89" stroke="#000000" stroke-width="4.9"/>
<rect x="446.92" y="1255.19" width="32.6" height="5.4" fill="#000000"/>
<line x1="463.22" y1="1323.21" x2="463.22" y2="1349.53" stroke="#000000" stroke-width="4.9"/>
<rect x="446.92" y="1346.83" width="32.6" height="5.4" fill="#000000"/>
<path d="M463.22,1284.21 L444.02,1323.21 L482.42,1323.21 Z M463.22,1296.21 L473.90,1317.91 L452.53,1317.91 Z" fill="#000000" fill-rule="evenodd"/>
<line x1="560.97" y1="1116.07" x2="560.97" y2="1093.21" stroke="#000000" stroke-width="4.9"/>
<rect x="544.67" y="1090.51" width="32.6" height="5.4" fill="#000000"/>
<line x1="560.97" y1="1155.07" x2="560.97" y2="1177.92" stroke="#000000" stroke-width="4.9"/>
<rect x="544.67" y="1175.22" width="32.6" height="5.4" fill="#000000"/>
<path d="M560.97,1116.07 L541.77,1155.07 L580.17,1155.07 Z M560.97,1128.07 L571.66,1149.77 L550.29,1149.77 Z" fill="#000000" fill-rule="evenodd"/>
<line x1="658.73" y1="994.14" x2="658.73" y2="962.30" stroke="#000000" stroke-width="4.9"/>
<rect x="642.43" y="959.60" width="32.6" height="5.4" fill="#000000"/>
<line x1="658.73" y1="1033.14" x2="658.73" y2="1064.98" stroke="#000000" stroke-width="4.9"/>
<rect x="642.43" y="1062.28" width="32.6" height="5.4" fill="#000000"/>
<path d="M658.73,994.14 L639.53,1033.14 L677.93,1033.14 Z M658.73,1006.14 L669.42,1027.84 L648.05,1027.84 Z" fill="#000000" fill-rule="evenodd"/>
<line x1="756.49" y1="903.01" x2="756.49" y2="869.88" stroke="#000000" stroke-width="4.9"/>
<rect x="740.19" y="867.18" width="32.6" height="5.4" fill="#000000"/>
<line x1="756.49" y1="942.01" x2="756.49" y2="975.13" stroke="#000000" stroke-width="4.9"/>
<rect x="740.19" y="972.43" width="32.6" height="5.4" fill="#000000"/>
<path d="M756.49,903.01 L737.29,942.01 L775.69,942.01 Z M756.49,915.01 L767.17,936.71 L745.81,936.71 Z" fill="#000000" fill-rule="evenodd"/>
<line x1="854.25" y1="820.86" x2="854.25" y2="791.59" stroke="#000000" stroke-width="4.9"/>
<rect x="837.95" y="788.89" width="32.6" height="5.4" fill="#000000"/>
<line x1="854.25" y1="859.86" x2="854.25" y2="889.14" stroke="#000000" stroke-width="4.9"/>
<rect x="837.95" y="886.44" width="32.6" height="5.4" fill="#000000"/>
<path d="M854.25,820.86 L835.05,859.86 L873.45,859.86 Z M854.25,832.86 L864.93,854.56 L843.56,854.56 Z" fill="#000000" fill-rule="evenodd"/>
<line x1="952.01" y1="746.42" x2="952.01" y2="718.43" stroke="#000000" stroke-width="4.9"/>
<rect x="935.71" y="715.73" width="32.6" height="5.4" fill="#000000"/>
<line x1="952.01" y1="785.42" x2="952.01" y2="813.41" stroke="#000000" stroke-width="4.9"/>
<rect x="935.71" y="810.71" width="32.6" height="5.4" fill="#000000"/>
<path d="M952.01,746.42 L932.81,785.42 L971.21,785.42 Z M952.01,758.42 L962.69,780.12 L941.32,780.12 Z" fill="#000000" fill-rule="evenodd"/>
<line x1="1049.76" y1="680.96" x2="1049.76" y2="658.62" stroke="#000000" stroke-width="4.9"/>
<rect x="1033.46" y="655.92" width="32.6" height="5.4" fill="#000000"/>
<line x1="1049.76" y1="719.96" x2="1049.76" y2="742.30" stroke="#000000" stroke-width="4.9"/>
<rect x="1033.46" y="739.60" width="32.6" height="5.4" fill="#000000"/>
<path d="M1049.76,680.96 L1030.56,719.96 L1068.96,719.96 Z M1049.76,692.96 L1060.45,714.66 L1039.08,714.66 Z" fill="#000000" fill-rule="evenodd"/>
<line x1="1147.52" y1="621.92" x2="1147.52" y2="599.19" stroke="#000000" stroke-width="4.9"/>
<rect x="1131.22" y="596.49" width="32.6" height="5.4" fill="#000000"/>
<line x1="1147.52" y1="660.92" x2="1147.52" y2="683.65" stroke="#000000" stroke-width="4.9"/>
<rect x="1131.22" y="680.95" width="32.6" height="5.4" fill="#000000"/>
<path d="M1147.52,621.92 L1128.32,660.92 L1166.72,660.92 Z M1147.52,633.92 L1158.21,655.62 L1136.84,655.62 Z" fill="#000000" fill-rule="evenodd"/>
<line x1="1245.28" y1="573.15" x2="1245.28" y2="558.38" stroke="#000000" stroke-width="4.9"/>
<rect x="1228.98" y="555.68" width="32.6" height="5.4" fill="#000000"/>
<line x1="1245.28" y1="612.15" x2="1245.28" y2="626.92" stroke="#000000" stroke-width="4.9"/>
<rect x="1228.98" y="624.22" width="32.6" height="5.4" fill="#000000"/>
<path d="M1245.28,573.15 L1226.08,612.15 L1264.48,612.15 Z M1245.28,585.15 L1255.96,606.85 L1234.60,606.85 Z" fill="#000000" fill-rule="evenodd"/>
<line x1="1343.04" y1="525.66" x2="1343.04" y2="509.86" stroke="#000000" stroke-width="4.9"/>
<rect x="1326.74" y="507.16" width="32.6" height="5.4" fill="#000000"/>
<line x1="1343.04" y1="564.66" x2="1343.04" y2="580.45" stroke="#000000" stroke-width="4.9"/>
<rect x="1326.74" y="577.75" width="32.6" height="5.4" fill="#000000"/>
<path d="M1343.04,525.66 L1323.84,564.66 L1362.24,564.66 Z M1343.04,537.66 L1353.72,559.36 L1332.35,559.36 Z" fill="#000000" fill-rule="evenodd"/>
<line x1="1440.80" y1="485.87" x2="1440.80" y2="480.47" stroke="#000000" stroke-width="4.9"/>
<rect x="1424.50" y="477.77" width="32.6" height="5.4" fill="#000000"/>
<line x1="1440.80" y1="524.87" x2="1440.80" y2="530.27" stroke="#000000" stroke-width="4.9"/>
<rect x="1424.50" y="527.57" width="32.6" height="5.4" fill="#000000"/>
<path d="M1440.80,485.87 L1421.60,524.87 L1460.00,524.87 Z M1440.80,497.87 L1451.48,519.57 L1430.11,519.57 Z" fill="#000000" fill-rule="evenodd"/>
<path d="M1538.55,452.50 L1519.35,491.50 L1557.75,491.50 Z M1538.55,464.50 L1549.24,486.20 L1527.87,486.20 Z" fill="#000000" fill-rule="evenodd"/>
<line x1="1636.31" y1="420.41" x2="1636.31" y2="420.02" stroke="#000000" stroke-width="4.9"/>
<rect x="1620.01" y="417.32" width="32.6" height="5.4" fill="#000000"/>
<line x1="1636.31" y1="459.41" x2="1636.31" y2="459.81" stroke="#000000" stroke-width="4.9"/>
<rect x="1620.01" y="457.11" width="32.6" height="5.4" fill="#000000"/>
<path d="M1636.31,420.41 L1617.11,459.41 L1655.51,459.41 Z M1636.31,432.41 L1647.00,454.11 L1625.63,454.11 Z" fill="#000000" fill-rule="evenodd"/>
<path d="M1734.07,390.89 L1714.87,429.89 L1753.27,429.89 Z M1734.07,402.89 L1744.75,424.59 L1723.39,424.59 Z" fill="#000000" fill-rule="evenodd"/>
<path d="M1831.83,370.36 L1812.63,409.36 L1851.03,409.36 Z M1831.83,382.35 L1842.51,404.06 L1821.14,404.06 Z" fill="#000000" fill-rule="evenodd"/>
<path d="M1929.59,348.54 L1910.39,387.54 L1948.79,387.54 Z M1929.59,360.54 L1940.27,382.24 L1918.90,382.24 Z" fill="#000000" fill-rule="evenodd"/>
<line x1="2027.34" y1="326.07" x2="2027.34" y2="322.73" stroke="#000000" stroke-width="4.9"/>
<rect x="2011.04" y="320.03" width="32.6" height="5.4" fill="#000000"/>
<line x1="2027.34" y1="365.07" x2="2027.34" y2="368.42" stroke="#000000" stroke-width="4.9"/>
<rect x="2011.04" y="365.72" width="32.6" height="5.4" fill="#000000"/>
<path d="M2027.34,326.07 L2008.14,365.07 L2046.54,365.07 Z M2027.34,338.07 L2038.03,359.77 L2016.66,359.77 Z" fill="#000000" fill-rule="evenodd"/>
<rect x="251.20" y="1490.00" width="33.0" height="33.0" fill="none" stroke="#990000" stroke-width="5.0"/>
<rect x="267.49" y="1405.29" width="33.0" height="33.0" fill="none" stroke="#990000" stroke-width="5.0"/>
<rect x="283.79" y="1282.07" width="33.0" height="33.0" fill="none" stroke="#990000" stroke-width="5.0"/>
<rect x="300.08" y="1184.53" width="33.0" height="33.0" fill="none" stroke="#990000" stroke-width="5.0"/>
<rect x="348.96" y="1044.63" width="33.0" height="33.0" fill="none" stroke="#990000" stroke-width="5.0"/>
<rect x="397.84" y="938.09" width="33.0" height="33.0" fill="none" stroke="#990000" stroke-width="5.0"/>
<rect x="446.72" y="846.97" width="33.0" height="33.0" fill="none" stroke="#990000" stroke-width="5.0"/>
<rect x="544.47" y="763.54" width="33.0" height="33.0" fill="none" stroke="#990000" stroke-width="5.0"/>
<rect x="642.23" y="694.23" width="33.0" height="33.0" fill="none" stroke="#990000" stroke-width="5.0"/>
<rect x="739.99" y="624.92" width="33.0" height="33.0" fill="none" stroke="#990000" stroke-width="5.0"/>
<rect x="837.75" y="571.01" width="33.0" height="33.0" fill="none" stroke="#990000" stroke-width="5.0"/>
<rect x="935.51" y="527.37" width="33.0" height="33.0" fill="none" stroke="#990000" stroke-width="5.0"/>
<rect x="1033.26" y="481.17" width="33.0" height="33.0" fill="none" stroke="#990000" stroke-width="5.0"/>
<rect x="1131.02" y="442.66" width="33.0" height="33.0" fill="none" stroke="#990000" stroke-width="5.0"/>
<rect x="1228.78" y="414.43" width="33.0" height="33.0" fill="none" stroke="#990000" stroke-width="5.0"/>
<rect x="1326.54" y="386.19" width="33.0" height="33.0" fill="none" stroke="#990000" stroke-width="5.0"/>
<rect x="1424.30" y="357.95" width="33.0" height="33.0" fill="none" stroke="#990000" stroke-width="5.0"/>
<rect x="1522.05" y="337.42" width="33.0" height="33.0" fill="none" stroke="#990000" stroke-width="5.0"/>
<rect x="1619.81" y="320.73" width="33.0" height="33.0" fill="none" stroke="#990000" stroke-width="5.0"/>
<rect x="1717.57" y="307.90" width="33.0" height="33.0" fill="none" stroke="#990000" stroke-width="5.0"/>
<rect x="1815.33" y="270.67" width="33.0" height="33.0" fill="none" stroke="#990000" stroke-width="5.0"/>
<rect x="1913.09" y="251.42" width="33.0" height="33.0" fill="none" stroke="#990000" stroke-width="5.0"/>
<rect x="2010.84" y="241.15" width="33.0" height="33.0" fill="none" stroke="#990000" stroke-width="5.0"/>
<circle cx="267.70" cy="1506.50" r="16.2" fill="none" stroke="#0000ff" stroke-width="5.0"/>
<circle cx="283.99" cy="1341.31" r="16.2" fill="none" stroke="#0000ff" stroke-width="5.0"/>
<circle cx="300.29" cy="1265.84" r="16.2" fill="none" stroke="#0000ff" stroke-width="5.0"/>
<rect x="300.28" y="1190.75" width="32.6" height="5.4" fill="#0000ff"/>
<rect x="300.28" y="1227.72" width="32.6" height="5.4" fill="#0000ff"/>
<circle cx="316.58" cy="1211.94" r="16.2" fill="none" stroke="#0000ff" stroke-width="5.0"/>
<line x1="365.46" y1="1077.08" x2="365.46" y2="1074.35" stroke="#0000ff" stroke-width="4.9"/>
<rect x="349.16" y="1071.65" width="32.6" height="5.4" fill="#0000ff"/>
<line x1="365.46" y1="1114.48" x2="365.46" y2="1117.21" stroke="#0000ff" stroke-width="4.9"/>
<rect x="349.16" y="1114.51" width="32.6" height="5.4" fill="#0000ff"/>
<circle cx="365.46" cy="1095.78" r="16.2" fill="none" stroke="#0000ff" stroke-width="5.0"/>
<line x1="414.34" y1="987.23" x2="414.34" y2="980.26" stroke="#0000ff" stroke-width="4.9"/>
<rect x="398.04" y="977.56" width="32.6" height="5.4" fill="#0000ff"/>
<line x1="414.34" y1="1024.63" x2="414.34" y2="1031.61" stroke="#0000ff" stroke-width="4.9"/>
<rect x="398.04" y="1028.90" width="32.6" height="5.4" fill="#0000ff"/>
<circle cx="414.34" cy="1005.93" r="16.2" fill="none" stroke="#0000ff" stroke-width="5.0"/>
<line x1="463.22" y1="921.78" x2="463.22" y2="917.37" stroke="#0000ff" stroke-width="4.9"/>
<rect x="446.92" y="914.67" width="32.6" height="5.4" fill="#0000ff"/>
<line x1="463.22" y1="959.18" x2="463.22" y2="963.58" stroke="#0000ff" stroke-width="4.9"/>
<rect x="446.92" y="960.88" width="32.6" height="5.4" fill="#0000ff"/>
<circle cx="463.22" cy="940.48" r="16.2" fill="none" stroke="#0000ff" stroke-width="5.0"/>
<line x1="560.97" y1="806.26" x2="560.97" y2="795.95" stroke="#0000ff" stroke-width="4.9"/>
<rect x="544.67" y="793.25" width="32.6" height="5.4" fill="#0000ff"/>
<line x1="560.97" y1="843.66" x2="560.97" y2="853.97" stroke="#0000ff" stroke-width="4.9"/>
<rect x="544.67" y="851.27" width="32.6" height="5.4" fill="#0000ff"/>
<circle cx="560.97" cy="824.96" r="16.2" fill="none" stroke="#0000ff" stroke-width="5.0"/>
<line x1="658.73" y1="705.64" x2="658.73" y2="692.25" stroke="#0000ff" stroke-width="4.9"/>
<rect x="642.43" y="689.55" width="32.6" height="5.4" fill="#0000ff"/>
<line x1="658.73" y1="743.04" x2="658.73" y2="756.42" stroke="#0000ff" stroke-width="4.9"/>
<rect x="642.43" y="753.72" width="32.6" height="5.4" fill="#0000ff"/>
<circle cx="658.73" cy="724.34" r="16.2" fill="none" stroke="#0000ff" stroke-width="5.0"/>
<line x1="756.49" y1="621.44" x2="756.49" y2="608.05" stroke="#0000ff" stroke-width="4.9"/>
<rect x="740.19" y="605.35" width="32.6" height="5.4" fill="#0000ff"/>
<line x1="756.49" y1="658.84" x2="756.49" y2="672.22" stroke="#0000ff" stroke-width="4.9"/>
<rect x="740.19" y="669.52" width="32.6" height="5.4" fill="#0000ff"/>
<circle cx="756.49" cy="640.14" r="16.2" fill="none" stroke="#0000ff" stroke-width="5.0"/>
<line x1="854.25" y1="550.84" x2="854.25" y2="538.10" stroke="#0000ff" stroke-width="4.9"/>
<rect x="837.95" y="535.40" width="32.6" height="5.4" fill="#0000ff"/>
<line x1="854.25" y1="588.25" x2="854.25" y2="600.99" stroke="#0000ff" stroke-width="4.9"/>
<rect x="837.95" y="598.29" width="32.6" height="5.4" fill="#0000ff"/>
<circle cx="854.25" cy="569.54" r="16.2" fill="none" stroke="#0000ff" stroke-width="5.0"/>
<line x1="952.01" y1="495.65" x2="952.01" y2="482.91" stroke="#0000ff" stroke-width="4.9"/>
<rect x="935.71" y="480.21" width="32.6" height="5.4" fill="#0000ff"/>
<line x1="952.01" y1="533.05" x2="952.01" y2="545.80" stroke="#0000ff" stroke-width="4.9"/>
<rect x="935.71" y="543.10" width="32.6" height="5.4" fill="#0000ff"/>
<circle cx="952.01" cy="514.35" r="16.2" fill="none" stroke="#0000ff" stroke-width="5.0"/>
<line x1="1049.76" y1="467.42" x2="1049.76" y2="458.78" stroke="#0000ff" stroke-width="4.9"/>
<rect x="1033.46" y="456.08" width="32.6" height="5.4" fill="#0000ff"/>
<line x1="1049.76" y1="504.82" x2="1049.76" y2="513.46" stroke="#0000ff" stroke-width="4.9"/>
<rect x="1033.46" y="510.76" width="32.6" height="5.4" fill="#0000ff"/>
<circle cx="1049.76" cy="486.12" r="16.2" fill="none" stroke="#0000ff" stroke-width="5.0"/>
<line x1="1147.52" y1="401.96" x2="1147.52" y2="390.75" stroke="#0000ff" stroke-width="4.9"/>
<rect x="1131.22" y="388.05" width="32.6" height="5.4" fill="#0000ff"/>
<line x1="1147.52" y1="439.36" x2="1147.52" y2="450.56" stroke="#0000ff" stroke-width="4.9"/>
<rect x="1131.22" y="447.86" width="32.6" height="5.4" fill="#0000ff"/>
<circle cx="1147.52" cy="420.66" r="16.2" fill="none" stroke="#0000ff" stroke-width="5.0"/>
<line x1="1245.28" y1="371.16" x2="1245.28" y2="364.70" stroke="#0000ff" stroke-width="4.9"/>
<rect x="1228.98" y="362.00" width="32.6" height="5.4" fill="#0000ff"/>
<line x1="1245.28" y1="408.56" x2="1245.28" y2="415.01" stroke="#0000ff" stroke-width="4.9"/>
<rect x="1228.98" y="412.31" width="32.6" height="5.4" fill="#0000ff"/>
<circle cx="1245.28" cy="389.86" r="16.2" fill="none" stroke="#0000ff" stroke-width="5.0"/>
<line x1="1343.04" y1="348.05" x2="1343.04" y2="342.37" stroke="#0000ff" stroke-width="4.9"/>
<rect x="1326.74" y="339.67" width="32.6" height="5.4" fill="#0000ff"/>
<line x1="1343.04" y1="385.45" x2="1343.04" y2="391.14" stroke="#0000ff" stroke-width="4.9"/>
<rect x="1326.74" y="388.44" width="32.6" height="5.4" fill="#0000ff"/>
<circle cx="1343.04" cy="366.75" r="16.2" fill="none" stroke="#0000ff" stroke-width="5.0"/>
<line x1="1440.80" y1="317.25" x2="1440.80" y2="314.51" stroke="#0000ff" stroke-width="4.9"/>
<rect x="1424.50" y="311.81" width="32.6" height="5.4" fill="#0000ff"/>
<line x1="1440.80" y1="354.65" x2="1440.80" y2="357.38" stroke="#0000ff" stroke-width="4.9"/>
<rect x="1424.50" y="354.68" width="32.6" height="5.4" fill="#0000ff"/>
<circle cx="1440.80" cy="335.95" r="16.2" fill="none" stroke="#0000ff" stroke-width="5.0"/>
<rect x="1522.25" y="301.55" width="32.6" height="5.4" fill="#0000ff"/>
<rect x="1522.25" y="336.71" width="32.6" height="5.4" fill="#0000ff"/>
<circle cx="1538.55" cy="321.83" r="16.2" fill="none" stroke="#0000ff" stroke-width="5.0"/>
<circle cx="1636.31" cy="305.14" r="16.2" fill="none" stroke="#0000ff" stroke-width="5.0"/>
<circle cx="1734.07" cy="285.89" r="16.2" fill="none" stroke="#0000ff" stroke-width="5.0"/>
<circle cx="1831.83" cy="276.91" r="16.2" fill="none" stroke="#0000ff" stroke-width="5.0"/>
<circle cx="1929.59" cy="266.64" r="16.2" fill="none" stroke="#0000ff" stroke-width="5.0"/>
<circle cx="2027.34" cy="258.94" r="16.2" fill="none" stroke="#0000ff" stroke-width="5.0"/>
<line x1="1697" y1="979.10" x2="1756.4" y2="979.10" stroke="#0000ff" stroke-width="5"/>
<circle cx="1726.40" cy="979.10" r="16.2" fill="none" stroke="#0000ff" stroke-width="5.0"/>
<text transform="translate(1791,994.70) scale(0.966,1)" font-family="'Liberation Sans', sans-serif" font-size="48" stroke="#fff" stroke-width="0.6">Without coating</text>
<line x1="1697" y1="1055.55" x2="1756.4" y2="1055.55" stroke="#990000" stroke-width="5"/>
<rect x="1709.90" y="1039.05" width="33.0" height="33.0" fill="none" stroke="#990000" stroke-width="5.0"/>
<text transform="translate(1791,1071.15) scale(1.059,1)" font-family="'Liberation Sans', sans-serif" font-size="48" stroke="#fff" stroke-width="0.6">PVA I</text>
<line x1="1697" y1="1132.00" x2="1756.4" y2="1132.00" stroke="#000000" stroke-width="5"/>
<path d="M1726.40,1112.50 L1707.20,1151.50 L1745.60,1151.50 Z M1726.40,1124.50 L1737.08,1146.20 L1715.72,1146.20 Z" fill="#000000" fill-rule="evenodd"/>
<text transform="translate(1791,1147.60) scale(1.063,1)" font-family="'Liberation Sans', sans-serif" font-size="48" stroke="#fff" stroke-width="0.6">PVA II</text>
<line x1="1697" y1="1208.45" x2="1756.4" y2="1208.45" stroke="#008000" stroke-width="5"/>
<path d="M1726.40,1227.95 L1707.20,1188.95 L1745.60,1188.95 Z M1726.40,1215.95 L1737.08,1194.25 L1715.72,1194.25 Z" fill="#008000" fill-rule="evenodd"/>
<text transform="translate(1791,1224.05) scale(1.052,1)" font-family="'Liberation Sans', sans-serif" font-size="48" stroke="#fff" stroke-width="0.6">PVA III</text>
<line x1="1697" y1="1284.90" x2="1756.4" y2="1284.90" stroke="#000" stroke-width="5"/>
<text transform="translate(1791,1300.50) scale(0.979,1)" font-family="'Liberation Sans', sans-serif" font-size="48" stroke="#fff" stroke-width="0.6">Weibull</text>
</svg>
</body></html>
